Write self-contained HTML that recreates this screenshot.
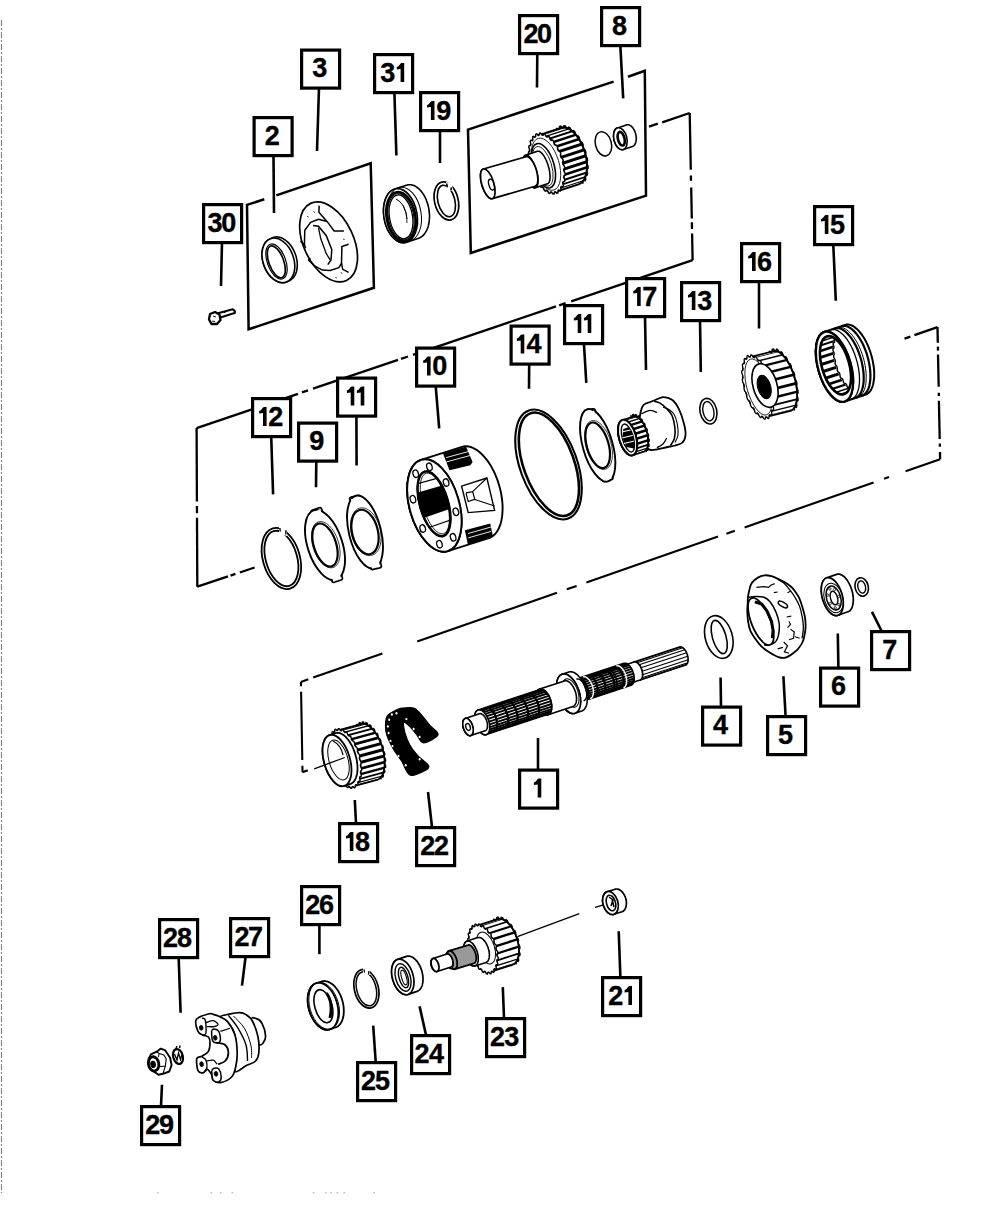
<!DOCTYPE html>
<html><head><meta charset="utf-8"><style>
html,body{margin:0;padding:0;background:#fff;width:1000px;height:1214px;overflow:hidden}
svg{display:block}
text{font-family:"Liberation Sans",sans-serif;font-weight:bold;font-size:27px;text-anchor:start;fill:#000;stroke:#000;stroke-width:0.35px}
</style></head><body>
<svg width="1000" height="1214" viewBox="0 0 1000 1214" stroke="#000" fill="none" stroke-linecap="butt">
<line x1="1.5" y1="20" x2="1.5" y2="1193" stroke="#888" stroke-width="1.2" stroke-dasharray="6 2 2 2"/>
<line x1="649.0" y1="126.7" x2="657.8" y2="123.7" stroke-width="2.3" />
<line x1="662.2" y1="122.3" x2="689.7" y2="113.0" stroke-width="2.3" />
<line x1="689.7" y1="113.0" x2="690.8" y2="169.7" stroke-width="2.3" />
<line x1="690.9" y1="175.6" x2="691.0" y2="180.8" stroke-width="2.3" />
<line x1="691.2" y1="187.5" x2="691.8" y2="218.6" stroke-width="2.3" />
<line x1="691.9" y1="222.3" x2="692.0" y2="229.0" stroke-width="2.3" />
<line x1="692.1" y1="233.5" x2="692.6" y2="260.2" stroke-width="2.3" />
<line x1="196.6" y1="428.1" x2="298.0" y2="393.8" stroke-width="2.3" />
<line x1="302.0" y1="392.4" x2="308.0" y2="390.4" stroke-width="2.3" />
<line x1="313.0" y1="388.7" x2="398.0" y2="359.9" stroke-width="2.3" />
<line x1="401.0" y1="358.9" x2="408.0" y2="356.5" stroke-width="2.3" />
<line x1="413.0" y1="354.8" x2="556.0" y2="306.4" stroke-width="2.3" />
<line x1="559.2" y1="305.4" x2="565.6" y2="303.2" stroke-width="2.3" />
<line x1="571.2" y1="301.3" x2="692.6" y2="260.2" stroke-width="2.3" />
<line x1="196.6" y1="428.1" x2="196.9" y2="501.5" stroke-width="2.3" />
<line x1="196.9" y1="506.0" x2="197.0" y2="513.3" stroke-width="2.3" />
<line x1="197.0" y1="517.8" x2="197.3" y2="586.7" stroke-width="2.3" />
<line x1="197.3" y1="586.7" x2="228.0" y2="576.4" stroke-width="2.3" />
<line x1="230.5" y1="575.6" x2="235.4" y2="573.9" stroke-width="2.3" />
<line x1="239.8" y1="572.5" x2="254.6" y2="567.5" stroke-width="2.3" />
<line x1="904.5" y1="338.7" x2="910.4" y2="336.6" stroke-width="2.3" />
<line x1="914.4" y1="335.2" x2="937.5" y2="327.1" stroke-width="2.3" />
<line x1="937.5" y1="327.1" x2="937.8" y2="342.7" stroke-width="2.3" />
<line x1="937.9" y1="346.6" x2="938.0" y2="350.6" stroke-width="2.3" />
<line x1="938.0" y1="354.5" x2="938.7" y2="386.8" stroke-width="2.3" />
<line x1="938.8" y1="392.8" x2="938.9" y2="396.0" stroke-width="2.3" />
<line x1="938.9" y1="400.7" x2="939.7" y2="438.9" stroke-width="2.3" />
<line x1="939.8" y1="443.5" x2="939.9" y2="446.8" stroke-width="2.3" />
<line x1="940.0" y1="452.1" x2="940.1" y2="459.3" stroke-width="2.3" />
<line x1="300.9" y1="681.9" x2="308.3" y2="679.3" stroke-width="2.1" />
<line x1="313.2" y1="677.6" x2="382.4" y2="653.5" stroke-width="2.1" />
<line x1="417.2" y1="641.4" x2="557.0" y2="592.7" stroke-width="2.1" />
<line x1="566.8" y1="589.3" x2="576.6" y2="585.9" stroke-width="2.1" />
<line x1="586.4" y1="582.5" x2="718.0" y2="536.6" stroke-width="2.1" />
<line x1="726.4" y1="533.7" x2="734.8" y2="530.8" stroke-width="2.1" />
<line x1="744.6" y1="527.4" x2="873.6" y2="482.5" stroke-width="2.1" />
<line x1="884.0" y1="478.8" x2="889.0" y2="477.1" stroke-width="2.1" />
<line x1="905.6" y1="471.3" x2="940.1" y2="459.3" stroke-width="2.1" />
<line x1="300.9" y1="681.9" x2="301.0" y2="686.3" stroke-width="2.1" />
<line x1="301.1" y1="691.7" x2="302.3" y2="760.0" stroke-width="2.1" />
<line x1="302.4" y1="765.8" x2="302.5" y2="772.3" stroke-width="2.1" />
<line x1="302.5" y1="772.3" x2="307.8" y2="770.3" stroke-width="2.1" />
<polyline points="264.3,199.3 247.0,204.8 248.6,329.3 373.9,287.8 370.7,163.3 276.3,195.4" stroke-width="2.5" fill="none" stroke-linejoin="miter"/>
<polyline points="613.6,81.6 468.0,129.6 470.8,253.0 646.0,195.6 644.8,70.8 628.0,76.8" stroke-width="2.5" fill="none" stroke-linejoin="miter"/>
<path d="M218,313.2 L232.5,309.3 Q235.5,310.5 234.8,313 L219.5,317.8" stroke-width="2.0" fill="#fff" />
<line x1="224.0" y1="312.5" x2="226.0" y2="311.8" stroke-width="1" />
<polygon points="210,314 215,312 219.5,314.5 220.5,320 217,324 211.5,324 209,319.5" fill="#fff" stroke-width="2.3" stroke-linejoin="round"/>
<line x1="213.0" y1="316.0" x2="216.0" y2="317.0" stroke-width="0.9" />
<line x1="212.0" y1="321.0" x2="215.0" y2="321.5" stroke-width="0.9" />
<polygon points="272.1,237.9 273.0,237.5 274.0,237.2 275.0,237.0 276.0,236.9 277.0,236.9 278.1,237.0 279.1,237.2 280.2,237.4 281.3,237.8 282.3,238.3 283.4,238.8 284.4,239.5 285.5,240.2 286.5,241.0 287.5,241.9 288.5,242.8 289.4,243.8 290.3,244.9 291.2,246.1 292.0,247.3 292.7,248.5 293.5,249.8 294.1,251.2 294.7,252.6 295.3,254.0 295.8,255.4 296.2,256.8 296.5,258.3 296.8,259.8 297.1,261.2 297.2,262.7 297.3,264.1 297.3,265.5 297.2,266.9 297.1,268.2 296.9,269.6 296.6,270.8 296.3,272.0 295.9,273.2 295.4,274.3 294.9,275.4 294.3,276.3 293.7,277.2 293.0,278.0 292.2,278.8 291.4,279.4 290.6,280.0 289.7,280.5 287.2,281.7 286.3,282.1 285.3,282.4 284.3,282.6 283.3,282.7 282.3,282.7 281.2,282.6 280.2,282.4 279.1,282.2 278.0,281.8 277.0,281.3 275.9,280.8 274.9,280.1 273.8,279.4 272.8,278.6 271.8,277.7 270.8,276.8 269.9,275.8 269.0,274.7 268.1,273.5 267.3,272.3 266.6,271.1 265.8,269.8 265.2,268.4 264.6,267.0 264.0,265.6 263.5,264.2 263.1,262.8 262.8,261.3 262.5,259.8 262.2,258.4 262.1,256.9 262.0,255.5 262.0,254.1 262.1,252.7 262.2,251.4 262.4,250.0 262.7,248.8 263.0,247.6 263.4,246.4 263.9,245.3 264.4,244.2 265.0,243.3 265.6,242.4 266.3,241.6 267.1,240.8 267.9,240.2 268.7,239.6 269.6,239.1" stroke-width="1.6" fill="#fff" stroke-linejoin="round" />
<ellipse cx="278.4" cy="260.4" rx="15.3" ry="23.1" transform="rotate(-20 278.4 260.4)" stroke-width="1.6" fill="#fff" />
<ellipse cx="276.5" cy="261.5" rx="9.2" ry="18.4" transform="rotate(-20 276.5 261.5)" stroke-width="1.2" fill="none" />
<ellipse cx="276.3" cy="261.8" rx="7.4" ry="16.8" transform="rotate(-20 276.3 261.8)" stroke-width="1.7" fill="none" />
<ellipse cx="328.6" cy="241.9" rx="25.0" ry="42.5" transform="rotate(-25 328.6 241.9)" stroke-width="1.7" fill="#fff" />
<polyline points="319.2,205.6 318.9,212.2 327.8,222.4 334.1,231.0 343.9,231.0" stroke-width="1.5" fill="none" />
<polyline points="348.6,244.3 341.9,246.6 341.5,263.0 342.7,269.3 348.6,272.4" stroke-width="1.5" fill="none" />
<polyline points="304.4,244.7 304.8,230.2 310.6,222.4 318.5,219.2 326.3,221.2" stroke-width="1.5" fill="none" />
<polyline points="308.3,259.9 314.6,265.8 322.4,270.1 330.2,270.5 338.8,267.7 341.8,263.0" stroke-width="1.5" fill="none" />
<polyline points="300.5,241.1 304.4,244.7 305.6,248.2" stroke-width="1.5" fill="none" />
<polyline points="308.3,260.3 310.3,258.0" stroke-width="1.5" fill="none" />
<polyline points="313.0,225.5 318.5,226.3 326.3,235.7 331.8,249.7 331.0,259.9 327.8,264.6" stroke-width="1.5" fill="none" />
<polyline points="318.5,227.8 320.8,238.8 326.3,253.7 330.2,259.9" stroke-width="1.3" fill="none" />
<line x1="313.8" y1="211.4" x2="314.6" y2="212.6" stroke-width="1.0" />
<line x1="307.5" y1="216.1" x2="308.3" y2="217.3" stroke-width="1.0" />
<line x1="343.5" y1="238.8" x2="344.3" y2="240.0" stroke-width="1.0" />
<line x1="341.1" y1="272.4" x2="341.9" y2="273.6" stroke-width="1.0" />
<line x1="335.7" y1="277.1" x2="336.5" y2="278.3" stroke-width="1.0" />
<polygon points="406.3,185.2 407.4,184.9 408.4,184.8 409.5,184.7 410.6,184.8 411.7,184.9 412.8,185.2 414.0,185.6 415.1,186.1 416.2,186.8 417.2,187.5 418.3,188.3 419.3,189.2 420.3,190.3 421.3,191.4 422.2,192.6 423.1,193.9 424.0,195.3 424.8,196.7 425.5,198.2 426.2,199.7 426.8,201.4 427.4,203.0 427.9,204.7 428.3,206.4 428.7,208.2 429.0,209.9 429.2,211.7 429.4,213.5 429.5,215.2 429.5,217.0 429.4,218.7 429.3,220.4 429.1,222.0 428.8,223.6 428.5,225.2 428.1,226.7 427.6,228.1 427.0,229.5 426.4,230.8 425.8,232.0 425.0,233.1 424.3,234.1 423.4,235.1 422.6,235.9 421.7,236.6 420.7,237.3 419.7,237.8 418.7,238.2 406.7,242.2 405.6,242.5 404.6,242.6 403.5,242.7 402.4,242.6 401.3,242.5 400.2,242.2 399.0,241.8 397.9,241.3 396.8,240.6 395.8,239.9 394.7,239.1 393.7,238.2 392.7,237.1 391.7,236.0 390.8,234.8 389.9,233.5 389.0,232.1 388.2,230.7 387.5,229.2 386.8,227.7 386.2,226.0 385.6,224.4 385.1,222.7 384.7,221.0 384.3,219.2 384.0,217.5 383.8,215.7 383.6,213.9 383.5,212.2 383.5,210.4 383.6,208.7 383.7,207.0 383.9,205.4 384.2,203.8 384.5,202.2 384.9,200.7 385.4,199.3 386.0,197.9 386.6,196.6 387.2,195.4 388.0,194.3 388.7,193.3 389.6,192.3 390.4,191.5 391.3,190.8 392.3,190.1 393.3,189.6 394.3,189.2" stroke-width="1.6" fill="#fff" stroke-linejoin="round" />
<ellipse cx="400.5" cy="215.7" rx="16.6" ry="27.3" transform="rotate(-10 400.5 215.7)" stroke-width="1.6" fill="#fff" />
<ellipse cx="404.5" cy="214.2" rx="16.6" ry="27.3" transform="rotate(-10 404.5 214.2)" stroke-width="1.0" fill="none" />
<ellipse cx="401.0" cy="216.8" rx="14.3" ry="24.9" transform="rotate(-10 401.0 216.8)" stroke-width="2.6" fill="none" />
<ellipse cx="401.0" cy="216.8" rx="12.7" ry="23.3" transform="rotate(-10 401.0 216.8)" stroke-width="1.0" fill="#fff" />
<ellipse cx="401.0" cy="216.8" rx="11.5" ry="22.1" transform="rotate(-10 401.0 216.8)" stroke-width="1.3" fill="none" />
<path d="M396,199 q9,4 11,20" stroke-width="1.0" fill="none" />
<path d="M403,205 q5,8 4,18" stroke-width="0.8" fill="none" />
<ellipse cx="446.4" cy="201.0" rx="11.8" ry="19.4" transform="rotate(-14 446.4 201.0)" stroke-width="1.7" fill="none" />
<ellipse cx="446.4" cy="201.0" rx="8.5" ry="16.1" transform="rotate(-14 446.4 201.0)" stroke-width="1.6" fill="none" />
<polygon points="446,182 452,183 453,191 447,191" fill="#fff" stroke="none"/>
<line x1="446.5" y1="183.5" x2="447.5" y2="187.2" stroke-width="1.6" />
<line x1="451.5" y1="187.3" x2="450.8" y2="190.5" stroke-width="1.6" />
<polygon points="561.0,127.9 562.0,127.7 563.0,127.5 564.1,127.5 565.1,127.7 566.2,127.9 567.3,128.2 568.5,128.7 569.6,129.3 570.7,130.0 571.8,130.8 572.9,131.8 574.0,132.8 575.1,133.9 576.2,135.1 577.2,136.5 578.2,137.9 579.1,139.3 580.1,140.9 580.9,142.5 581.8,144.2 582.5,145.9 583.3,147.7 583.9,149.5 584.5,151.3 585.1,153.1 585.6,155.0 586.0,156.9 586.3,158.7 586.6,160.6 586.8,162.4 586.9,164.2 586.9,166.0 586.9,167.8 586.8,169.4 586.7,171.1 586.4,172.6 586.1,174.1 585.7,175.5 585.3,176.8 584.8,178.1 584.2,179.2 583.5,180.3 582.8,181.2 582.1,182.1 581.3,182.8 580.4,183.4 579.5,183.9 578.6,184.3 555.6,191.8 554.6,192.0 553.6,192.2 552.5,192.2 551.5,192.0 550.4,191.8 549.3,191.5 548.1,191.0 547.0,190.4 545.9,189.7 544.8,188.9 543.7,187.9 542.6,186.9 541.5,185.8 540.4,184.6 539.4,183.2 538.4,181.8 537.5,180.4 536.5,178.8 535.7,177.2 534.8,175.5 534.1,173.8 533.3,172.0 532.7,170.2 532.1,168.4 531.5,166.6 531.0,164.7 530.6,162.8 530.3,161.0 530.0,159.1 529.8,157.3 529.7,155.5 529.7,153.7 529.7,151.9 529.8,150.3 529.9,148.6 530.2,147.1 530.5,145.6 530.9,144.2 531.3,142.9 531.8,141.6 532.4,140.5 533.1,139.4 533.8,138.5 534.5,137.6 535.3,136.9 536.2,136.3 537.1,135.8 538.0,135.4" stroke-width="1.9" fill="#fff" stroke-linejoin="round" />
<ellipse cx="546.8" cy="163.6" rx="15.5" ry="29.5" transform="rotate(-17 546.8 163.6)" stroke-width="1.9" fill="#fff" />
<polygon points="538.0,135.4 538.6,135.3 539.1,135.2 539.6,135.1 562.6,127.6 562.1,127.7 561.6,127.8 561.0,127.9" fill="#000" stroke="none"/>
<polygon points="541.3,135.1 541.9,135.1 542.4,135.2 543.0,135.3 566.0,127.8 565.4,127.7 564.9,127.6 564.3,127.6" fill="#000" stroke="none"/>
<polygon points="544.8,135.9 545.4,136.2 546.0,136.5 546.6,136.8 569.6,129.3 569.0,129.0 568.4,128.7 567.8,128.4" fill="#000" stroke="none"/>
<polygon points="548.4,138.0 549.0,138.4 549.6,138.9 550.1,139.5 573.1,132.0 572.6,131.4 572.0,130.9 571.4,130.5" fill="#000" stroke="none"/>
<polygon points="551.9,141.2 552.5,141.8 553.0,142.5 553.6,143.2 576.6,135.7 576.0,135.0 575.5,134.3 574.9,133.7" fill="#000" stroke="none"/>
<polygon points="555.2,145.4 555.7,146.1 556.2,146.9 556.7,147.8 579.7,140.3 579.2,139.4 578.7,138.6 578.2,137.9" fill="#000" stroke="none"/>
<polygon points="558.1,150.3 558.6,151.2 559.0,152.1 559.4,153.0 582.4,145.5 582.0,144.6 581.6,143.7 581.1,142.8" fill="#000" stroke="none"/>
<polygon points="560.5,155.9 560.9,156.8 561.2,157.8 561.5,158.8 584.5,151.3 584.2,150.3 583.9,149.3 583.5,148.4" fill="#000" stroke="none"/>
<polygon points="562.4,161.8 562.6,162.8 562.8,163.8 563.0,164.8 586.0,157.3 585.8,156.3 585.6,155.3 585.4,154.3" fill="#000" stroke="none"/>
<polygon points="563.5,167.7 563.6,168.7 563.7,169.7 563.8,170.7 586.8,163.2 586.7,162.2 586.6,161.2 586.5,160.2" fill="#000" stroke="none"/>
<polygon points="563.9,173.5 563.9,174.4 563.9,175.4 563.9,176.3 586.9,168.8 586.9,167.9 586.9,166.9 586.9,166.0" fill="#000" stroke="none"/>
<polygon points="563.6,178.9 563.5,179.7 563.3,180.5 563.2,181.3 586.2,173.8 586.3,173.0 586.5,172.2 586.6,171.4" fill="#000" stroke="none"/>
<polygon points="562.6,183.6 562.3,184.3 562.0,184.9 561.8,185.6 584.8,178.1 585.0,177.4 585.3,176.8 585.6,176.1" fill="#000" stroke="none"/>
<polygon points="560.8,187.4 560.5,187.9 560.1,188.4 559.7,188.9 582.7,181.4 583.1,180.9 583.5,180.4 583.8,179.9" fill="#000" stroke="none"/>
<polygon points="558.4,190.2 558.0,190.5 557.5,190.8 557.1,191.1 580.1,183.6 580.5,183.3 581.0,183.0 581.4,182.7" fill="#000" stroke="none"/>
<polygon points="562.6,158.8 563.2,160.6 562.6,162.5 562.9,164.2 564.4,166.1 564.7,167.9 563.7,169.4 563.9,171.0 565.1,173.3 565.1,175.0 563.9,175.9 563.8,177.4 564.8,180.0 564.5,181.5 563.1,181.7 562.7,183.0 563.4,185.6 562.9,186.9 561.3,186.5 560.7,187.5 561.0,190.1 560.3,190.9 558.7,189.9 558.0,190.5 557.9,192.9 556.9,193.4 555.4,191.8 554.5,192.0 554.0,194.1 553.0,194.1 551.6,192.1 550.6,191.9 549.8,193.5 548.7,193.1 547.5,190.7 546.5,190.1 545.4,191.1 544.3,190.3 543.4,187.7 542.4,186.8 541.1,187.2 540.0,186.0 539.5,183.4 538.6,182.1 537.1,181.9 536.1,180.4 536.0,177.8 535.2,176.3 533.6,175.5 532.9,173.8 533.1,171.5 532.5,169.8 531.0,168.4 530.4,166.6 531.0,164.7 530.7,163.0 529.2,161.1 528.9,159.3 529.9,157.8 529.7,156.2 528.5,153.9 528.5,152.2 529.7,151.3 529.8,149.8 528.8,147.2 529.1,145.7 530.5,145.5 530.9,144.2 530.2,141.6 530.7,140.3 532.3,140.7 532.9,139.7 532.6,137.1 533.3,136.3 534.9,137.3 535.6,136.7 535.7,134.3 536.7,133.8 538.2,135.4 539.1,135.2 539.6,133.1 540.6,133.1 542.0,135.1 543.0,135.3 543.8,133.7 544.9,134.1 546.1,136.5 547.1,137.1 548.2,136.1 549.3,136.9 550.2,139.5 551.2,140.4 552.5,140.0 553.6,141.2 554.1,143.8 555.0,145.1 556.5,145.3 557.5,146.8 557.6,149.4 558.4,150.9 560.0,151.7 560.7,153.4 560.5,155.7 561.1,157.4 562.6,158.8" fill="#fff" stroke-width="1.5" stroke-linejoin="round"/>
<ellipse cx="546.0" cy="164.2" rx="13.0" ry="27.0" transform="rotate(-17 546.0 164.2)" stroke-width="0.8" fill="none" />
<polyline points="556.1,129.3 556.9,128.4 558.5,129.3 559.3,128.7 559.7,126.5 560.7,126.1 562.2,127.6 563.3,127.5 564.0,125.8 565.2,126.0 566.6,128.0 567.7,128.4 568.8,127.2 570.0,127.9 571.1,130.3 572.3,131.2 573.6,130.7 574.8,131.9 575.6,134.5 576.6,135.8 578.2,136.0 579.2,137.5 579.6,140.1 580.5,141.8 582.1,142.7 583.0,144.5 583.0,147.0 583.7,148.8 585.2,150.3 585.8,152.3 585.4,154.4 585.8,156.3 587.2,158.3 587.5,160.4 586.7,162.0 586.9,163.8 588.0,166.2 588.0,168.1 586.9,169.1 586.7,170.8 587.5,173.4 587.1,175.0 585.8,175.4 585.3,176.7 585.7,179.4 585.1,180.6 583.6,180.3 582.8,181.2 582.8,183.7" stroke-width="1.6" fill="none" />
<ellipse cx="543.5" cy="165.8" rx="10.5" ry="23.0" transform="rotate(-17 543.5 165.8)" stroke-width="1.6" fill="#fff" />
<ellipse cx="542.8" cy="166.3" rx="8.8" ry="20.5" transform="rotate(-17 542.8 166.3)" stroke-width="0.8" fill="none" />
<polygon points="537.5,151.3 537.9,151.2 538.3,151.2 538.7,151.2 539.1,151.3 539.6,151.5 540.0,151.8 540.5,152.1 541.0,152.5 541.5,152.9 542.0,153.5 542.5,154.0 543.0,154.7 543.5,155.4 544.0,156.1 544.4,156.9 544.9,157.7 545.4,158.6 545.8,159.5 546.3,160.5 546.7,161.5 547.1,162.5 547.5,163.5 547.9,164.5 548.2,165.6 548.5,166.7 548.8,167.7 549.1,168.8 549.3,169.9 549.5,170.9 549.7,172.0 549.8,173.0 549.9,174.0 550.0,174.9 550.1,175.9 550.1,176.8 550.1,177.6 550.0,178.5 549.9,179.2 549.8,179.9 549.7,180.6 549.5,181.2 549.3,181.8 549.1,182.3 548.8,182.7 548.5,183.1 548.2,183.4 547.9,183.6 547.5,183.7 535.5,187.7 535.1,187.8 534.7,187.8 534.3,187.8 533.9,187.7 533.4,187.5 533.0,187.2 532.5,186.9 532.0,186.5 531.5,186.1 531.0,185.5 530.5,185.0 530.0,184.3 529.5,183.6 529.0,182.9 528.6,182.1 528.1,181.3 527.6,180.4 527.2,179.5 526.7,178.5 526.3,177.5 525.9,176.5 525.5,175.5 525.1,174.5 524.8,173.4 524.5,172.3 524.2,171.3 523.9,170.2 523.7,169.1 523.5,168.1 523.3,167.0 523.2,166.0 523.1,165.0 523.0,164.1 522.9,163.1 522.9,162.2 522.9,161.4 523.0,160.5 523.1,159.8 523.2,159.1 523.3,158.4 523.5,157.8 523.7,157.2 523.9,156.7 524.2,156.3 524.5,155.9 524.8,155.6 525.1,155.4 525.5,155.3" stroke-width="1.6" fill="#fff" stroke-linejoin="round" />
<ellipse cx="530.5" cy="171.5" rx="6.0" ry="17.0" transform="rotate(-17 530.5 171.5)" stroke-width="1.6" fill="#fff" />
<polygon points="526.0,156.7 526.4,156.6 526.8,156.6 527.2,156.6 527.6,156.7 528.1,156.9 528.6,157.2 529.0,157.5 529.5,157.8 530.0,158.2 530.4,158.7 530.9,159.3 531.4,159.8 531.9,160.5 532.3,161.2 532.8,161.9 533.2,162.6 533.7,163.4 534.1,164.3 534.5,165.2 534.9,166.1 535.3,167.0 535.6,167.9 536.0,168.9 536.3,169.8 536.5,170.8 536.8,171.8 537.0,172.8 537.2,173.7 537.4,174.7 537.5,175.6 537.7,176.6 537.7,177.5 537.8,178.4 537.8,179.2 537.8,180.0 537.8,180.8 537.7,181.6 537.6,182.3 537.4,182.9 537.3,183.5 537.1,184.1 536.9,184.6 536.6,185.0 536.3,185.4 536.0,185.7 535.7,186.0 535.4,186.2 535.0,186.3 492.3,198.6 491.9,198.7 491.5,198.7 491.1,198.7 490.7,198.6 490.2,198.4 489.7,198.1 489.3,197.8 488.8,197.5 488.3,197.1 487.9,196.6 487.4,196.0 486.9,195.5 486.4,194.8 486.0,194.1 485.5,193.4 485.1,192.7 484.6,191.9 484.2,191.0 483.8,190.1 483.4,189.2 483.0,188.3 482.7,187.4 482.3,186.4 482.0,185.5 481.8,184.5 481.5,183.5 481.3,182.5 481.1,181.6 480.9,180.6 480.8,179.7 480.6,178.7 480.6,177.8 480.5,176.9 480.5,176.1 480.5,175.3 480.5,174.5 480.6,173.7 480.7,173.0 480.9,172.4 481.0,171.8 481.2,171.2 481.4,170.7 481.7,170.3 482.0,169.9 482.3,169.6 482.6,169.3 482.9,169.1 483.3,169.0" stroke-width="1.7" fill="#fff" stroke-linejoin="round" />
<ellipse cx="487.8" cy="183.8" rx="6.0" ry="15.5" transform="rotate(-17 487.8 183.8)" stroke-width="1.7" fill="#fff" />
<ellipse cx="491.5" cy="184.6" rx="2.6" ry="5.6" transform="rotate(-17 491.5 184.6)" stroke-width="1.4" fill="none" />
<ellipse cx="603.4" cy="143.8" rx="8.0" ry="12.3" transform="rotate(-14 603.4 143.8)" stroke-width="1.5" fill="none" />
<polygon points="626.4,124.9 626.8,124.8 627.2,124.7 627.7,124.7 628.1,124.7 628.6,124.8 629.0,124.9 629.5,125.1 629.9,125.3 630.3,125.6 630.8,125.9 631.2,126.2 631.7,126.6 632.1,127.0 632.5,127.5 632.9,128.0 633.3,128.5 633.6,129.1 634.0,129.7 634.3,130.3 634.6,130.9 634.9,131.6 635.1,132.3 635.4,132.9 635.6,133.6 635.8,134.4 635.9,135.1 636.0,135.8 636.1,136.5 636.2,137.2 636.3,137.9 636.3,138.6 636.2,139.3 636.2,140.0 636.1,140.6 636.0,141.3 635.9,141.9 635.7,142.5 635.5,143.0 635.3,143.5 635.1,144.0 634.8,144.5 634.5,144.9 634.2,145.3 633.9,145.6 633.5,145.9 633.2,146.1 632.8,146.3 632.4,146.5 623.4,149.5 623.0,149.6 622.6,149.7 622.1,149.7 621.7,149.7 621.2,149.6 620.8,149.5 620.3,149.3 619.9,149.1 619.5,148.8 619.0,148.5 618.6,148.2 618.1,147.8 617.7,147.4 617.3,146.9 616.9,146.4 616.5,145.9 616.2,145.3 615.8,144.7 615.5,144.1 615.2,143.5 614.9,142.8 614.7,142.1 614.4,141.5 614.2,140.8 614.0,140.0 613.9,139.3 613.8,138.6 613.7,137.9 613.6,137.2 613.5,136.5 613.5,135.8 613.6,135.1 613.6,134.4 613.7,133.8 613.8,133.1 613.9,132.5 614.1,131.9 614.3,131.4 614.5,130.9 614.7,130.4 615.0,129.9 615.3,129.5 615.6,129.1 615.9,128.8 616.3,128.5 616.6,128.3 617.0,128.1 617.4,127.9" stroke-width="1.6" fill="#fff" stroke-linejoin="round" />
<ellipse cx="620.4" cy="138.7" rx="6.5" ry="11.2" transform="rotate(-14 620.4 138.7)" stroke-width="1.6" fill="#fff" />
<ellipse cx="621.2" cy="138.7" rx="3.3" ry="7.0" transform="rotate(-14 621.2 138.7)" stroke-width="2.6" fill="none" />
<ellipse cx="281.4" cy="558.5" rx="18.5" ry="31.3" transform="rotate(-16 281.4 558.5)" stroke-width="1.8" fill="none" />
<ellipse cx="281.4" cy="558.5" rx="15.7" ry="28.5" transform="rotate(-16 281.4 558.5)" stroke-width="1.8" fill="none" />
<polygon points="279,526 287,528 287,536 279,534" fill="#fff" stroke="none"/>
<line x1="279.8" y1="528.0" x2="280.3" y2="531.5" stroke-width="1.4" />
<line x1="286.0" y1="530.2" x2="285.8" y2="534.5" stroke-width="1.4" />
<rect x="311.5" y="508.7" width="11" height="7.6" rx="2" fill="#fff" stroke-width="1.7" transform="rotate(-18 317.0 512.5)"/>
<rect x="331.0" y="573.7" width="11" height="7.6" rx="2" fill="#fff" stroke-width="1.7" transform="rotate(-18 336.5 577.5)"/>
<ellipse cx="325.0" cy="545.0" rx="17.4" ry="36.4" transform="rotate(-18 325.0 545.0)" stroke-width="1.9" fill="#fff" />
<rect x="312.8" y="510.7" width="8.4" height="4.6" fill="#fff" stroke="none" transform="rotate(-18 317.0 512.5)"/>
<rect x="332.3" y="575.7" width="8.4" height="4.6" fill="#fff" stroke="none" transform="rotate(-18 336.5 577.5)"/>
<ellipse cx="325.0" cy="545.0" rx="11.2" ry="22.3" transform="rotate(-18 325.0 545.0)" stroke-width="2.1999999999999997" fill="none" />
<ellipse cx="325.8" cy="544.7" rx="12.9" ry="24.0" transform="rotate(-18 325.8 544.7)" stroke-width="0.7" fill="none" />
<rect x="350.0" y="496.2" width="11" height="7.6" rx="2" fill="#fff" stroke-width="1.7" transform="rotate(-14 355.5 500.0)"/>
<rect x="370.0" y="561.2" width="11" height="7.6" rx="2" fill="#fff" stroke-width="1.7" transform="rotate(-14 375.5 565.0)"/>
<ellipse cx="365.0" cy="532.0" rx="16.0" ry="37.4" transform="rotate(-14 365.0 532.0)" stroke-width="1.9" fill="#fff" />
<rect x="351.3" y="498.2" width="8.4" height="4.6" fill="#fff" stroke="none" transform="rotate(-14 355.5 500.0)"/>
<rect x="371.3" y="563.2" width="8.4" height="4.6" fill="#fff" stroke="none" transform="rotate(-14 375.5 565.0)"/>
<ellipse cx="365.0" cy="532.0" rx="12.9" ry="22.7" transform="rotate(-14 365.0 532.0)" stroke-width="2.1999999999999997" fill="none" />
<ellipse cx="365.8" cy="531.7" rx="14.6" ry="24.4" transform="rotate(-14 365.8 531.7)" stroke-width="0.7" fill="none" />
<polygon points="462.0,446.9 463.5,446.5 465.2,446.3 466.8,446.3 468.5,446.5 470.3,446.9 472.0,447.5 473.8,448.3 475.6,449.3 477.4,450.4 479.1,451.8 480.9,453.3 482.6,455.0 484.3,456.8 486.0,458.8 487.6,460.9 489.2,463.2 490.7,465.6 492.1,468.1 493.5,470.7 494.8,473.5 496.0,476.3 497.1,479.1 498.1,482.0 499.0,485.0 499.9,488.0 500.6,491.0 501.2,494.0 501.7,497.1 502.1,500.1 502.4,503.0 502.6,505.9 502.6,508.8 502.5,511.6 502.3,514.3 502.0,516.9 501.6,519.4 501.1,521.8 500.5,524.1 499.7,526.2 498.9,528.2 497.9,530.1 496.9,531.7 495.7,533.3 494.5,534.6 493.2,535.7 491.8,536.7 490.4,537.5 488.8,538.1 447.8,551.1 446.3,551.5 444.6,551.7 443.0,551.7 441.3,551.5 439.5,551.1 437.8,550.5 436.0,549.7 434.2,548.7 432.4,547.6 430.7,546.2 428.9,544.7 427.2,543.0 425.5,541.2 423.8,539.2 422.2,537.1 420.6,534.8 419.1,532.4 417.7,529.9 416.3,527.3 415.0,524.5 413.8,521.7 412.7,518.9 411.7,516.0 410.8,513.0 409.9,510.0 409.2,507.0 408.6,504.0 408.1,500.9 407.7,497.9 407.4,495.0 407.2,492.1 407.2,489.2 407.3,486.4 407.5,483.7 407.8,481.1 408.2,478.6 408.7,476.2 409.3,473.9 410.1,471.8 410.9,469.8 411.9,467.9 412.9,466.3 414.1,464.7 415.3,463.4 416.6,462.3 418.0,461.3 419.4,460.5 421.0,459.9" stroke-width="1.9" fill="#fff" stroke-linejoin="round" />
<ellipse cx="434.4" cy="505.5" rx="24.8" ry="47.5" transform="rotate(-16 434.4 505.5)" stroke-width="1.9" fill="#fff" />
<clipPath id="c1"><polygon points="462.0,446.9 463.5,446.5 465.2,446.3 466.8,446.3 468.5,446.5 470.3,446.9 472.0,447.5 473.8,448.3 475.6,449.3 477.4,450.4 479.1,451.8 480.9,453.3 482.6,455.0 484.3,456.8 486.0,458.8 487.6,460.9 489.2,463.2 490.7,465.6 492.1,468.1 493.5,470.7 494.8,473.5 496.0,476.3 497.1,479.1 498.1,482.0 499.0,485.0 499.9,488.0 500.6,491.0 501.2,494.0 501.7,497.1 502.1,500.1 502.4,503.0 502.6,505.9 502.6,508.8 502.5,511.6 502.3,514.3 502.0,516.9 501.6,519.4 501.1,521.8 500.5,524.1 499.7,526.2 498.9,528.2 497.9,530.1 496.9,531.7 495.7,533.3 494.5,534.6 493.2,535.7 491.8,536.7 490.4,537.5 488.8,538.1 447.8,551.1 446.3,551.5 444.6,551.7 443.0,551.7 441.3,551.5 439.5,551.1 437.8,550.5 436.0,549.7 434.2,548.7 432.4,547.6 430.7,546.2 428.9,544.7 427.2,543.0 425.5,541.2 423.8,539.2 422.2,537.1 420.6,534.8 419.1,532.4 417.7,529.9 416.3,527.3 415.0,524.5 413.8,521.7 412.7,518.9 411.7,516.0 410.8,513.0 409.9,510.0 409.2,507.0 408.6,504.0 408.1,500.9 407.7,497.9 407.4,495.0 407.2,492.1 407.2,489.2 407.3,486.4 407.5,483.7 407.8,481.1 408.2,478.6 408.7,476.2 409.3,473.9 410.1,471.8 410.9,469.8 411.9,467.9 412.9,466.3 414.1,464.7 415.3,463.4 416.6,462.3 418.0,461.3 419.4,460.5 421.0,459.9"/></clipPath>
<g clip-path="url(#c1)">
<polygon points="442.9,453.2 466.0,446.6 472.6,462.0 470.4,465.3 449.5,470.3" fill="#000" stroke="none"/>
<polygon points="464.9,530.2 490.2,523.6 493.5,539.0 468.2,546.2" fill="#000" stroke="none"/>
<polyline points="446.2,457.6 470.4,451.0" stroke-width="0.9" fill="none" stroke="#fff"/>
<polyline points="446.2,462.0 470.4,455.4" stroke-width="0.9" fill="none" stroke="#fff"/>
<polyline points="468.2,533.5 491.3,526.9" stroke-width="0.9" fill="none" stroke="#fff"/>
<polyline points="468.2,537.9 491.3,531.3" stroke-width="0.9" fill="none" stroke="#fff"/>
<polygon points="461.6,486.2 486.9,478.0 494.6,510.4 468.2,512.6" fill="#fff" stroke="#000" stroke-width="1.4"/>
<polyline points="466.0,492.8 472.6,491.7 474.8,499.4 468.2,501.6 466.0,492.8" stroke-width="1.2" fill="none" />
<polyline points="472.6,491.7 486.9,478.0" stroke-width="1.1" fill="none" />
<polyline points="474.8,499.4 494.6,506.0" stroke-width="1.1" fill="none" />
</g>
<ellipse cx="434.4" cy="505.5" rx="24.8" ry="47.5" transform="rotate(-16 434.4 505.5)" stroke-width="1.9" fill="#fff" />
<ellipse cx="455.9" cy="511.8" rx="2.7" ry="3.8" transform="rotate(-16 455.9 511.8)" stroke-width="1.3" fill="#fff" />
<ellipse cx="453.1" cy="537.3" rx="2.7" ry="3.8" transform="rotate(-16 453.1 537.3)" stroke-width="1.3" fill="#fff" />
<ellipse cx="439.4" cy="544.2" rx="2.7" ry="3.8" transform="rotate(-16 439.4 544.2)" stroke-width="1.3" fill="#fff" />
<ellipse cx="422.7" cy="528.5" rx="2.7" ry="3.8" transform="rotate(-16 422.7 528.5)" stroke-width="1.3" fill="#fff" />
<ellipse cx="412.9" cy="499.2" rx="2.7" ry="3.8" transform="rotate(-16 412.9 499.2)" stroke-width="1.3" fill="#fff" />
<ellipse cx="415.7" cy="473.7" rx="2.7" ry="3.8" transform="rotate(-16 415.7 473.7)" stroke-width="1.3" fill="#fff" />
<ellipse cx="429.4" cy="466.8" rx="2.7" ry="3.8" transform="rotate(-16 429.4 466.8)" stroke-width="1.3" fill="#fff" />
<ellipse cx="446.1" cy="482.5" rx="2.7" ry="3.8" transform="rotate(-16 446.1 482.5)" stroke-width="1.3" fill="#fff" />
<ellipse cx="434.0" cy="503.8" rx="14.2" ry="33.5" transform="rotate(-16 434.0 503.8)" stroke-width="1.6" fill="#fff" />
<clipPath id="c2"><ellipse cx="434.0" cy="503.8" rx="14.2" ry="33.5" transform="rotate(-16 434.0 503.8)"/></clipPath>
<g clip-path="url(#c2)">
<polygon points="416.5,492.8 447.3,484.0 451.7,508.2 419.8,519.2" fill="#000" stroke="none"/>
<polyline points="416.5,484.0 444.0,476.3" stroke-width="1.2" fill="none" />
<polyline points="427.5,528.0 452.8,519.2" stroke-width="1.2" fill="none" />
</g>
<ellipse cx="434.0" cy="503.8" rx="14.2" ry="33.5" transform="rotate(-16 434.0 503.8)" stroke-width="2.4" fill="none" />
<ellipse cx="434.8" cy="503.5" rx="12.2" ry="31.5" transform="rotate(-16 434.8 503.5)" stroke-width="0.8" fill="none" />
<ellipse cx="548.5" cy="464.5" rx="28.5" ry="57.5" transform="rotate(-20 548.5 464.5)" stroke-width="2.1" fill="none" />
<ellipse cx="548.9" cy="464.3" rx="25.2" ry="54.2" transform="rotate(-20 548.9 464.3)" stroke-width="2.6" fill="none" />
<rect x="585.0" y="409.7" width="11" height="7.6" rx="2" fill="#fff" stroke-width="1.7" transform="rotate(-16 590.5 413.5)"/>
<rect x="601.5" y="473.2" width="11" height="7.6" rx="2" fill="#fff" stroke-width="1.7" transform="rotate(-16 607.0 477.0)"/>
<ellipse cx="597.7" cy="445.3" rx="14.9" ry="37.5" transform="rotate(-16 597.7 445.3)" stroke-width="1.9" fill="#fff" />
<rect x="586.3" y="411.7" width="8.4" height="4.6" fill="#fff" stroke="none" transform="rotate(-16 590.5 413.5)"/>
<rect x="602.8" y="475.2" width="8.4" height="4.6" fill="#fff" stroke="none" transform="rotate(-16 607.0 477.0)"/>
<ellipse cx="597.7" cy="445.3" rx="10.9" ry="23.5" transform="rotate(-16 597.7 445.3)" stroke-width="2.1999999999999997" fill="none" />
<ellipse cx="598.5" cy="445.0" rx="12.6" ry="25.2" transform="rotate(-16 598.5 445.0)" stroke-width="0.7" fill="none" />
<path d="M640.5,412.5 C641.3,409.0 641.9,406.8 643.5,405.0 C645.1,403.3 648.5,402.8 650.3,402.0 C652.0,401.3 651.9,401.3 654.0,400.5 C656.1,399.7 660.0,397.3 663.0,397.1 C666.0,397.0 669.4,397.8 672.0,399.8 C674.6,401.7 676.8,404.8 678.8,408.8 C680.8,412.8 682.9,419.4 684.0,423.8 C685.1,428.1 685.8,431.9 685.5,435.0 C685.3,438.1 684.3,440.8 682.5,442.5 C680.8,444.3 677.5,444.8 675.0,445.5 C672.5,446.3 670.5,446.4 667.5,447.0 C664.5,447.6 659.8,448.8 657.0,449.3 C654.3,449.8 653.0,450.4 651.0,450.0 C649.0,449.6 646.8,448.9 645.0,447.0 C643.3,445.1 641.5,442.3 640.5,438.8 C639.5,435.3 639.0,430.4 639.0,426.0 C639.0,421.6 639.8,416.0 640.5,412.5 Z" stroke-width="1.8" fill="#fff" stroke-linejoin="round" />
<path d="M654.0,401.3 C655.0,401.6 658.0,402.0 660.0,403.1 C662.0,404.3 664.0,405.9 666.0,408.0 C668.0,410.1 670.5,412.0 672.0,415.5 C673.5,419.0 674.6,425.1 675.0,429.0 C675.4,432.9 675.0,436.0 674.3,438.8 C673.5,441.5 671.1,444.4 670.5,445.5" stroke-width="1.6" fill="none" stroke-linejoin="round" />
<path d="M663.0,407.3 C664.0,407.6 667.1,408.3 669.0,409.5 C670.9,410.8 672.9,412.4 674.3,414.8 C675.6,417.1 676.6,420.4 677.3,423.8 C677.9,427.1 678.4,431.9 678.0,435.0 C677.6,438.1 675.5,441.3 675.0,442.5" stroke-width="1.1" fill="none" stroke-linejoin="round" />
<path d="M641.3,414.0 C642.1,413.6 644.9,412.0 646.5,411.4 C648.1,410.8 649.3,410.1 651.0,410.3 C652.8,410.4 656.0,412.1 657.0,412.5" stroke-width="1.3" fill="none" stroke-linejoin="round" />
<path d="M666.8,438.0 C666.1,439.0 664.6,442.4 663.0,444.0 C661.4,445.6 658.0,447.1 657.0,447.8" stroke-width="1.3" fill="none" stroke-linejoin="round" />
<polygon points="633.4,416.5 634.0,416.4 634.5,416.3 635.1,416.3 635.7,416.4 636.3,416.6 636.9,416.8 637.5,417.2 638.2,417.6 638.8,418.0 639.4,418.6 640.0,419.2 640.7,419.8 641.3,420.6 641.9,421.3 642.5,422.2 643.0,423.1 643.6,424.0 644.1,425.0 644.6,426.0 645.1,427.1 645.5,428.1 645.9,429.2 646.3,430.4 646.7,431.5 647.0,432.7 647.3,433.8 647.5,435.0 647.8,436.2 647.9,437.3 648.1,438.5 648.1,439.6 648.2,440.7 648.2,441.7 648.2,442.8 648.1,443.8 648.0,444.7 647.8,445.6 647.6,446.5 647.4,447.3 647.1,448.1 646.8,448.8 646.5,449.4 646.1,450.0 645.7,450.4 645.2,450.9 644.8,451.2 644.3,451.5 643.8,451.7 632.8,455.2 632.2,455.3 631.7,455.4 631.1,455.4 630.5,455.3 629.9,455.1 629.3,454.9 628.7,454.5 628.0,454.1 627.4,453.7 626.8,453.1 626.2,452.5 625.5,451.9 624.9,451.1 624.3,450.4 623.7,449.5 623.2,448.6 622.6,447.7 622.1,446.7 621.6,445.7 621.1,444.6 620.7,443.6 620.3,442.5 619.9,441.3 619.5,440.2 619.2,439.0 618.9,437.9 618.7,436.7 618.4,435.5 618.3,434.4 618.1,433.2 618.1,432.1 618.0,431.0 618.0,430.0 618.0,428.9 618.1,427.9 618.2,427.0 618.4,426.1 618.6,425.2 618.8,424.4 619.1,423.6 619.4,422.9 619.7,422.3 620.1,421.7 620.5,421.3 621.0,420.8 621.4,420.5 621.9,420.2 622.4,420.0" stroke-width="1.7" fill="#fff" stroke-linejoin="round" />
<ellipse cx="627.6" cy="437.6" rx="8.5" ry="18.4" transform="rotate(-16 627.6 437.6)" stroke-width="1.7" fill="#fff" />
<polygon points="622.4,420.0 622.8,419.9 623.2,419.8 623.6,419.8 634.6,416.3 634.2,416.3 633.8,416.4 633.4,416.5" fill="#000" stroke="none"/>
<polygon points="624.9,420.0 625.4,420.1 625.8,420.3 626.3,420.5 637.3,417.0 636.8,416.8 636.4,416.6 635.9,416.5" fill="#000" stroke="none"/>
<polygon points="627.6,421.4 628.1,421.8 628.5,422.2 629.0,422.6 640.0,419.1 639.5,418.7 639.1,418.3 638.6,417.9" fill="#000" stroke="none"/>
<polygon points="630.3,424.1 630.8,424.7 631.2,425.3 631.6,425.9 642.6,422.4 642.2,421.8 641.8,421.2 641.3,420.6" fill="#000" stroke="none"/>
<polygon points="632.8,427.9 633.2,428.7 633.6,429.4 633.9,430.2 644.9,426.7 644.6,425.9 644.2,425.2 643.8,424.4" fill="#000" stroke="none"/>
<polygon points="634.9,432.5 635.2,433.4 635.4,434.2 635.7,435.0 646.7,431.5 646.4,430.7 646.2,429.9 645.9,429.0" fill="#000" stroke="none"/>
<polygon points="636.3,437.6 636.5,438.4 636.7,439.3 636.8,440.1 647.8,436.6 647.7,435.8 647.5,434.9 647.3,434.1" fill="#000" stroke="none"/>
<polygon points="637.1,442.6 637.2,443.4 637.2,444.2 637.2,445.0 648.2,441.5 648.2,440.7 648.2,439.9 648.1,439.1" fill="#000" stroke="none"/>
<polygon points="637.1,447.2 637.0,447.9 636.9,448.6 636.8,449.2 647.8,445.7 647.9,445.1 648.0,444.4 648.1,443.7" fill="#000" stroke="none"/>
<polygon points="636.3,451.0 636.1,451.6 635.9,452.1 635.7,452.6 646.7,449.1 646.9,448.6 647.1,448.1 647.3,447.5" fill="#000" stroke="none"/>
<polygon points="634.8,453.8 634.5,454.1 634.2,454.4 633.9,454.7 644.9,451.2 645.2,450.9 645.5,450.6 645.8,450.3" fill="#000" stroke="none"/>
<polyline points="630.4,416.6 631.0,416.0 632.1,417.2 632.7,416.8 632.7,414.8 633.4,414.6 634.4,416.3 635.1,416.3 635.5,414.7 636.2,414.9 637.1,416.9 637.8,417.3 638.5,416.2 639.2,416.8 639.9,419.0 640.6,419.7 641.5,419.2 642.2,420.1 642.6,422.3 643.2,423.3 644.3,423.4 644.9,424.7 644.9,426.7 645.4,427.8 646.6,428.6 647.1,430.0 646.7,431.6 647.1,432.9 648.2,434.2 648.5,435.6 647.8,436.8 648.0,438.0 649.1,439.8 649.1,441.1 648.2,441.7 648.2,442.8 649.0,444.9 648.8,446.1 647.7,446.0 647.5,446.9 648.1,449.1 647.7,450.0 646.5,449.3 646.1,449.9 646.3,452.1" stroke-width="1.6" fill="none" />
<ellipse cx="627.6" cy="437.6" rx="8.5" ry="18.4" transform="rotate(-16 627.6 437.6)" stroke-width="2.0" fill="#fff" />
<ellipse cx="627.9" cy="438.0" rx="5.5" ry="14.4" transform="rotate(-16 627.9 438.0)" stroke-width="1.4" fill="#fff" />
<clipPath id="c3"><ellipse cx="627.9" cy="438.0" rx="5.5" ry="14.4" transform="rotate(-16 627.9 438.0)"/></clipPath>
<g clip-path="url(#c3)">
<polygon points="623.3,429.0 630.0,426.8 634.5,432.0 636.8,442.5 633.8,448.5 626.3,447.0 622.5,438.0" fill="#000" stroke="none"/>
<polyline points="621.8,432.0 634.5,429.0" stroke-width="1.1" fill="none" stroke="#fff"/>
<polyline points="621.8,438.0 634.5,435.0" stroke-width="1.1" fill="none" stroke="#fff"/>
<polyline points="621.8,444.0 634.5,441.0" stroke-width="1.1" fill="none" stroke="#fff"/>
</g>
<ellipse cx="708.4" cy="411.2" rx="8.4" ry="13.0" transform="rotate(-12 708.4 411.2)" stroke-width="1.6" fill="none" />
<ellipse cx="708.4" cy="411.2" rx="5.4" ry="9.8" transform="rotate(-12 708.4 411.2)" stroke-width="1.4" fill="none" />
<polygon points="773.6,351.2 774.5,351.0 775.4,351.0 776.3,351.1 777.2,351.4 778.1,351.7 779.1,352.2 780.1,352.8 781.1,353.6 782.1,354.4 783.0,355.4 784.0,356.5 785.0,357.7 786.0,358.9 786.9,360.3 787.8,361.8 788.7,363.3 789.6,365.0 790.5,366.7 791.3,368.4 792.0,370.2 792.7,372.1 793.4,374.0 794.0,375.9 794.6,377.8 795.1,379.8 795.6,381.8 796.0,383.7 796.4,385.7 796.6,387.6 796.9,389.5 797.0,391.4 797.1,393.2 797.1,395.0 797.1,396.7 797.0,398.3 796.8,399.9 796.6,401.4 796.3,402.8 796.0,404.1 795.6,405.3 795.1,406.4 794.6,407.4 794.0,408.2 793.3,409.0 792.7,409.7 791.9,410.2 791.2,410.6 790.4,410.8 766.4,416.8 765.5,417.0 764.6,417.0 763.7,416.9 762.8,416.6 761.9,416.3 760.9,415.8 759.9,415.2 758.9,414.4 757.9,413.6 757.0,412.6 756.0,411.5 755.0,410.3 754.0,409.1 753.1,407.7 752.2,406.2 751.3,404.7 750.4,403.0 749.5,401.3 748.7,399.6 748.0,397.8 747.3,395.9 746.6,394.0 746.0,392.1 745.4,390.2 744.9,388.2 744.4,386.2 744.0,384.3 743.6,382.3 743.4,380.4 743.1,378.5 743.0,376.6 742.9,374.8 742.9,373.0 742.9,371.3 743.0,369.7 743.2,368.1 743.4,366.6 743.7,365.2 744.0,363.9 744.4,362.7 744.9,361.6 745.4,360.6 746.0,359.8 746.7,359.0 747.3,358.3 748.1,357.8 748.8,357.4 749.6,357.2" stroke-width="1.8" fill="#fff" stroke-linejoin="round" />
<ellipse cx="758.0" cy="387.0" rx="13.0" ry="31.0" transform="rotate(-16 758.0 387.0)" stroke-width="1.8" fill="#fff" />
<polygon points="749.6,357.2 750.0,357.1 750.4,357.0 750.7,357.0 774.7,351.0 774.4,351.0 774.0,351.1 773.6,351.2" fill="#000" stroke="none"/>
<polygon points="753.5,357.5 753.9,357.6 754.4,357.8 754.8,358.0 778.8,352.0 778.4,351.8 777.9,351.6 777.5,351.5" fill="#000" stroke="none"/>
<polygon points="757.8,360.2 758.2,360.6 758.6,361.0 759.1,361.4 783.1,355.4 782.6,355.0 782.2,354.6 781.8,354.2" fill="#000" stroke="none"/>
<polygon points="762.1,365.1 762.5,365.7 762.9,366.3 763.3,366.9 787.3,360.9 786.9,360.3 786.5,359.7 786.1,359.1" fill="#000" stroke="none"/>
<polygon points="766.0,371.7 766.4,372.5 766.7,373.2 767.1,374.0 791.1,368.0 790.7,367.2 790.4,366.5 790.0,365.7" fill="#000" stroke="none"/>
<polygon points="769.3,379.6 769.6,380.5 769.9,381.3 770.1,382.1 794.1,376.1 793.9,375.3 793.6,374.5 793.3,373.6" fill="#000" stroke="none"/>
<polygon points="771.7,388.1 771.9,389.0 772.0,389.8 772.2,390.7 796.2,384.7 796.0,383.8 795.9,383.0 795.7,382.1" fill="#000" stroke="none"/>
<polygon points="773.0,396.5 773.0,397.3 773.1,398.1 773.1,398.9 797.1,392.9 797.1,392.1 797.0,391.3 797.0,390.5" fill="#000" stroke="none"/>
<polygon points="773.0,404.2 773.0,404.9 772.9,405.5 772.8,406.2 796.8,400.2 796.9,399.5 797.0,398.9 797.0,398.2" fill="#000" stroke="none"/>
<polygon points="771.9,410.4 771.7,410.9 771.5,411.4 771.3,411.9 795.3,405.9 795.5,405.4 795.7,404.9 795.9,404.4" fill="#000" stroke="none"/>
<polygon points="769.6,414.7 769.3,415.1 769.0,415.4 768.7,415.6 792.7,409.6 793.0,409.4 793.3,409.1 793.6,408.7" fill="#000" stroke="none"/>
<polyline points="769.1,352.2 769.8,351.3 771.3,352.4 772.1,351.8 772.4,349.4 773.4,349.2 774.8,351.0 775.8,351.0 776.5,349.3 777.6,349.7 779.0,352.1 780.1,352.8 781.1,351.9 782.3,352.9 783.3,355.7 784.4,357.0 785.7,356.9 786.9,358.5 787.6,361.4 788.6,363.1 790.1,363.9 791.1,365.9 791.4,368.8 792.2,370.8 793.7,372.3 794.5,374.6 794.4,377.1 795.0,379.3 796.4,381.5 796.9,383.9 796.4,385.8 796.7,388.0 797.9,390.7 798.0,392.9 797.1,394.1 797.1,396.1 798.0,399.0 797.8,400.9 796.6,401.3 796.3,402.9 796.8,405.8 796.3,407.2 794.9,406.8 794.3,407.9 794.3,410.5" stroke-width="1.6" fill="none" />
<polygon points="771.4,383.2 772.0,385.4 771.6,387.7 772.0,389.8 773.4,392.3 773.7,394.6 772.9,396.1 773.1,398.1 774.2,401.0 774.2,403.1 773.0,403.8 772.9,405.5 773.7,408.6 773.3,410.2 771.9,410.1 771.5,411.4 771.9,414.4 771.3,415.6 769.7,414.6 769.0,415.4 769.0,418.0 768.1,418.6 766.5,416.8 765.6,417.0 765.2,419.1 764.1,419.0 762.7,416.6 761.6,416.2 760.8,417.6 759.6,416.8 758.4,414.0 757.4,413.0 756.2,413.6 755.0,412.3 754.2,409.2 753.1,407.7 751.7,407.5 750.6,405.7 750.2,402.6 749.3,400.8 747.7,399.7 746.9,397.5 746.8,394.8 746.1,392.7 744.6,390.8 744.0,388.6 744.4,386.3 744.0,384.2 742.6,381.7 742.3,379.4 743.1,377.9 742.9,375.9 741.8,373.0 741.8,370.9 743.0,370.2 743.1,368.5 742.3,365.4 742.7,363.8 744.1,363.9 744.5,362.6 744.1,359.6 744.7,358.4 746.3,359.4 747.0,358.6 747.0,356.0 747.9,355.4 749.5,357.2 750.4,357.0 750.8,354.9 751.9,355.0 753.3,357.4 754.4,357.8 755.2,356.4 756.4,357.2 757.6,360.0 758.6,361.0 759.8,360.4 761.0,361.7 761.8,364.8 762.9,366.3 764.3,366.5 765.4,368.3 765.8,371.4 766.7,373.2 768.3,374.3 769.1,376.5 769.2,379.2 769.9,381.3 771.4,383.2" fill="#fff" stroke-width="1.3" stroke-linejoin="round"/>
<ellipse cx="758.5" cy="387.0" rx="11.5" ry="29.0" transform="rotate(-16 758.5 387.0)" stroke-width="0.8" fill="none" />
<ellipse cx="765.0" cy="385.5" rx="12.0" ry="22.5" transform="rotate(-16 765.0 385.5)" stroke-width="1.6" fill="#fff" />
<ellipse cx="764.2" cy="387.0" rx="6.5" ry="12.0" transform="rotate(-16 764.2 387.0)" stroke-width="1" fill="#000" />
<polygon points="845.2,324.9 846.2,324.6 847.3,324.5 848.4,324.5 849.6,324.7 850.8,325.1 851.9,325.5 853.2,326.2 854.4,327.0 855.6,327.9 856.8,328.9 858.0,330.1 859.2,331.4 860.4,332.8 861.6,334.4 862.7,336.0 863.9,337.8 864.9,339.6 866.0,341.6 867.0,343.6 867.9,345.7 868.8,347.8 869.6,350.0 870.4,352.2 871.1,354.5 871.7,356.8 872.3,359.1 872.8,361.4 873.2,363.7 873.6,366.0 873.9,368.2 874.1,370.4 874.2,372.6 874.2,374.7 874.2,376.8 874.0,378.7 873.8,380.6 873.5,382.4 873.2,384.2 872.7,385.8 872.2,387.2 871.6,388.6 871.0,389.9 870.3,391.0 869.5,392.0 868.7,392.8 867.8,393.5 866.8,394.1 865.8,394.5 844.8,401.5 843.8,401.8 842.7,401.9 841.6,401.9 840.4,401.7 839.2,401.3 838.1,400.9 836.8,400.2 835.6,399.4 834.4,398.5 833.2,397.5 832.0,396.3 830.8,395.0 829.6,393.6 828.4,392.0 827.3,390.4 826.1,388.6 825.1,386.8 824.0,384.8 823.0,382.8 822.1,380.7 821.2,378.6 820.4,376.4 819.6,374.2 818.9,371.9 818.3,369.6 817.7,367.3 817.2,365.0 816.8,362.7 816.4,360.4 816.1,358.2 815.9,356.0 815.8,353.8 815.8,351.7 815.8,349.6 816.0,347.7 816.2,345.8 816.5,344.0 816.8,342.2 817.3,340.6 817.8,339.2 818.4,337.8 819.0,336.5 819.7,335.4 820.5,334.4 821.3,333.6 822.2,332.9 823.2,332.3 824.2,331.9" stroke-width="2.0" fill="#fff" stroke-linejoin="round" />
<ellipse cx="834.5" cy="366.7" rx="16.4" ry="36.3" transform="rotate(-16 834.5 366.7)" stroke-width="2.0" fill="#fff" />
<polyline points="830.5,329.8 831.7,329.5 833.1,329.4 834.4,329.5 835.8,329.9 837.2,330.4 838.7,331.2 840.2,332.2 841.6,333.4 843.1,334.8 844.5,336.3 846.0,338.0 847.4,339.9 848.7,342.0 850.0,344.2 851.3,346.5 852.5,348.9 853.6,351.4 854.6,354.0 855.5,356.7 856.4,359.4 857.2,362.1 857.8,364.9 858.4,367.7 858.8,370.4 859.2,373.1 859.4,375.8 859.5,378.4 859.5,380.9 859.4,383.3 859.1,385.5 858.8,387.7 858.3,389.7 857.7,391.6 857.1,393.3 856.3,394.8 855.4,396.1 854.5,397.2 853.4,398.2 852.3,398.9 851.1,399.4" stroke-width="1.3" fill="none" />
<polyline points="834.7,328.4 835.9,328.1 837.3,328.0 838.6,328.1 840.0,328.5 841.4,329.0 842.9,329.8 844.4,330.8 845.8,332.0 847.3,333.4 848.7,334.9 850.2,336.6 851.6,338.5 852.9,340.6 854.2,342.8 855.5,345.1 856.7,347.5 857.8,350.0 858.8,352.6 859.7,355.3 860.6,358.0 861.4,360.7 862.0,363.5 862.6,366.3 863.0,369.0 863.4,371.7 863.6,374.4 863.7,377.0 863.7,379.5 863.6,381.9 863.3,384.1 863.0,386.3 862.5,388.3 861.9,390.2 861.3,391.9 860.5,393.4 859.6,394.7 858.7,395.8 857.6,396.8 856.5,397.5 855.3,398.0" stroke-width="2.2" fill="none" />
<polyline points="837.2,327.5 838.5,327.2 839.8,327.2 841.1,327.3 842.5,327.6 844.0,328.2 845.4,329.0 846.9,330.0 848.3,331.1 849.8,332.5 851.3,334.1 852.7,335.8 854.1,337.7 855.4,339.7 856.7,341.9 858.0,344.2 859.2,346.7 860.3,349.2 861.3,351.8 862.3,354.4 863.1,357.2 863.9,359.9 864.5,362.7 865.1,365.4 865.5,368.2 865.9,370.9 866.1,373.5 866.2,376.1 866.2,378.6 866.1,381.0 865.8,383.3 865.5,385.5 865.0,387.5 864.5,389.3 863.8,391.0 863.0,392.5 862.1,393.9 861.2,395.0 860.1,395.9 859.0,396.7 857.8,397.2" stroke-width="1.0" fill="none" />
<polyline points="841.4,326.1 842.7,325.8 844.0,325.8 845.3,325.9 846.7,326.2 848.2,326.8 849.6,327.6 851.1,328.6 852.5,329.7 854.0,331.1 855.5,332.7 856.9,334.4 858.3,336.3 859.6,338.3 860.9,340.5 862.2,342.8 863.4,345.3 864.5,347.8 865.5,350.4 866.5,353.0 867.3,355.8 868.1,358.5 868.7,361.3 869.3,364.0 869.7,366.8 870.1,369.5 870.3,372.1 870.4,374.7 870.4,377.2 870.3,379.6 870.0,381.9 869.7,384.1 869.2,386.1 868.7,387.9 868.0,389.6 867.2,391.1 866.3,392.5 865.4,393.6 864.3,394.5 863.2,395.3 862.0,395.8" stroke-width="2.2" fill="none" />
<ellipse cx="834.5" cy="366.7" rx="16.4" ry="36.3" transform="rotate(-16 834.5 366.7)" stroke-width="2.4" fill="#fff" />
<ellipse cx="835.5" cy="365.3" rx="13.7" ry="30.1" transform="rotate(-16 835.5 365.3)" stroke-width="1.4" fill="#fff" />
<clipPath id="c4"><ellipse cx="835.5" cy="365.3" rx="13.7" ry="30.1" transform="rotate(-16 835.5 365.3)"/></clipPath>
<g clip-path="url(#c4)">
<polygon points="844.0,394.2 843.6,394.3 843.1,394.4 842.6,394.5 855.6,390.3 856.1,390.2 856.6,390.1 857.0,390.0" fill="#000" stroke="none"/>
<polygon points="840.6,394.4 840.1,394.3 839.6,394.1 839.1,393.9 852.1,389.7 852.6,389.9 853.1,390.1 853.6,390.2" fill="#000" stroke="none"/>
<polygon points="836.9,392.8 836.4,392.5 835.9,392.1 835.4,391.7 848.4,387.5 848.9,387.9 849.4,388.3 849.9,388.6" fill="#000" stroke="none"/>
<polygon points="833.2,389.7 832.7,389.2 832.2,388.6 831.6,388.0 844.6,383.8 845.2,384.4 845.7,385.0 846.2,385.5" fill="#000" stroke="none"/>
<polygon points="829.6,385.2 829.1,384.5 828.6,383.7 828.1,382.9 841.1,378.7 841.6,379.5 842.1,380.3 842.6,381.0" fill="#000" stroke="none"/>
<polygon points="826.3,379.5 825.9,378.6 825.5,377.7 825.1,376.8 838.1,372.6 838.5,373.5 838.9,374.4 839.3,375.3" fill="#000" stroke="none"/>
<polygon points="823.5,373.0 823.2,372.0 822.9,371.1 822.6,370.1 835.6,365.9 835.9,366.9 836.2,367.8 836.5,368.8" fill="#000" stroke="none"/>
<polygon points="821.5,366.0 821.3,365.0 821.1,364.0 820.9,363.1 833.9,358.9 834.1,359.8 834.3,360.8 834.5,361.8" fill="#000" stroke="none"/>
<polygon points="820.3,359.0 820.2,358.0 820.1,357.1 820.0,356.1 833.0,351.9 833.1,352.9 833.2,353.8 833.3,354.8" fill="#000" stroke="none"/>
<polygon points="819.9,352.4 819.9,351.5 820.0,350.6 820.0,349.8 833.0,345.6 833.0,346.4 832.9,347.3 832.9,348.2" fill="#000" stroke="none"/>
<polygon points="820.5,346.5 820.6,345.7 820.8,345.0 821.0,344.3 834.0,340.1 833.8,340.8 833.6,341.5 833.5,342.3" fill="#000" stroke="none"/>
<polygon points="821.9,341.7 822.2,341.1 822.4,340.6 822.7,340.1 835.7,335.9 835.4,336.4 835.2,336.9 834.9,337.5" fill="#000" stroke="none"/>
<polygon points="824.1,338.3 824.5,337.9 824.9,337.6 825.3,337.3 838.3,333.1 837.9,333.4 837.5,333.7 837.1,334.1" fill="#000" stroke="none"/>
<polygon points="861.5,357.4 862.0,359.2 861.6,361.0 862.0,362.7 863.2,364.6 863.4,366.4 862.8,367.7 863.0,369.4 864.0,371.6 864.0,373.3 863.1,374.1 863.1,375.6 863.9,378.0 863.7,379.5 862.6,379.7 862.4,381.0 862.9,383.4 862.5,384.6 861.3,384.3 860.8,385.2 861.1,387.6 860.5,388.4 859.2,387.4 858.6,388.0 858.5,390.2 857.8,390.5 856.5,389.1 855.8,389.3 855.4,391.1 854.5,391.0 853.4,389.1 852.5,388.9 851.9,390.2 850.9,389.7 849.9,387.5 849.0,386.9 848.1,387.7 847.2,386.8 846.4,384.4 845.5,383.4 844.4,383.6 843.5,382.4 843.0,379.9 842.2,378.6 840.9,378.2 840.1,376.7 839.9,374.3 839.2,372.8 837.9,371.8 837.2,370.1 837.3,368.0 836.8,366.3 835.5,364.8 835.0,363.0 835.4,361.2 835.0,359.5 833.8,357.6 833.6,355.8 834.2,354.5 834.0,352.8 833.0,350.6 833.0,348.9 833.9,348.1 833.9,346.6 833.1,344.2 833.3,342.7 834.4,342.5 834.6,341.2 834.1,338.8 834.5,337.6 835.7,337.9 836.2,337.0 835.9,334.6 836.5,333.8 837.8,334.8 838.4,334.2 838.5,332.0 839.2,331.7 840.5,333.1 841.2,332.9 841.6,331.1 842.5,331.2 843.6,333.1 844.5,333.3 845.1,332.0 846.1,332.5 847.1,334.7 848.0,335.3 848.9,334.5 849.8,335.4 850.6,337.8 851.5,338.8 852.6,338.6 853.5,339.8 854.0,342.3 854.8,343.6 856.1,344.0 856.9,345.5 857.1,347.9 857.8,349.4 859.1,350.4 859.8,352.1 859.7,354.2 860.2,355.9 861.5,357.4" stroke-width="1.4" fill="none" />
</g>
<ellipse cx="835.5" cy="365.3" rx="13.7" ry="30.1" transform="rotate(-16 835.5 365.3)" stroke-width="2.6" fill="none" />
<ellipse cx="718.8" cy="637.0" rx="13.5" ry="21.9" transform="rotate(-16 718.8 637.0)" stroke-width="1.6" fill="none" />
<ellipse cx="719.2" cy="637.0" rx="6.8" ry="17.2" transform="rotate(-16 719.2 637.0)" stroke-width="1.6" fill="none" />
<path d="M751.8,582.9 C753.2,581.0 755.8,578.8 757.9,577.6 C760.1,576.3 762.3,575.5 764.7,575.3 C767.1,575.1 770.0,575.8 772.3,576.4 C774.6,577.1 776.3,578.1 778.4,579.1 C780.4,580.0 782.4,580.9 784.4,582.1 C786.4,583.3 788.7,584.8 790.5,586.3 C792.3,587.8 793.5,589.1 795.0,591.2 C796.5,593.3 798.3,596.0 799.6,598.8 C800.8,601.6 801.7,604.8 802.6,607.9 C803.5,610.9 804.4,613.8 804.9,617.0 C805.4,620.1 805.7,623.8 805.6,626.8 C805.6,629.8 805.0,632.6 804.5,635.2 C804.0,637.7 803.6,639.8 802.6,642.0 C801.7,644.1 800.1,646.4 798.8,648.0 C797.6,649.7 796.5,650.6 795.0,651.8 C793.5,653.1 791.5,654.6 789.7,655.6 C788.0,656.6 786.3,657.6 784.4,657.9 C782.5,658.1 780.4,657.8 778.4,657.1 C776.3,656.5 774.3,655.2 772.3,654.1 C770.3,653.0 768.1,651.7 766.2,650.3 C764.3,648.9 762.8,647.8 760.9,645.8 C759.0,643.7 756.6,640.7 754.9,638.2 C753.1,635.7 751.5,633.4 750.3,630.6 C749.2,627.8 748.6,624.7 748.1,621.5 C747.6,618.4 747.4,614.7 747.3,611.7 C747.2,608.6 747.6,605.9 747.7,603.3 C747.8,600.8 747.7,598.9 748.1,596.5 C748.4,594.1 748.9,591.2 749.6,588.9 C750.2,586.7 750.5,584.8 751.8,582.9 Z" stroke-width="1.8" fill="#fff" stroke-linejoin="round" />
<path d="M778.4,579.8 C779.4,580.5 782.7,582.1 784.4,583.6 C786.2,585.2 787.2,586.7 789.0,588.9 C790.7,591.2 793.3,594.4 795.0,597.3 C796.8,600.2 798.4,603.1 799.6,606.4 C800.8,609.6 801.6,613.6 802.2,617.0 C802.9,620.4 803.3,623.8 803.4,626.8 C803.4,629.8 802.9,633.3 802.6,635.2 C802.4,637.0 802.0,637.7 801.8,638.2" stroke-width="1.3" fill="none" stroke-linejoin="round" />
<path d="M748.8,597.3 C750.0,597.1 753.1,596.5 755.6,596.5 C758.2,596.5 761.6,596.4 764.0,597.3 C766.4,598.2 768.0,599.3 770.0,601.8 C772.1,604.3 774.6,608.9 776.1,612.4 C777.6,616.0 778.6,620.0 779.1,623.0 C779.6,626.1 779.4,628.1 779.1,630.6 C778.9,633.1 778.4,636.2 777.6,638.2 C776.8,640.2 776.1,641.6 774.6,642.7 C773.1,643.9 770.3,644.6 768.5,645.0 C766.7,645.4 764.7,645.0 764.0,645.0" stroke-width="1.5" fill="none" stroke-linejoin="round" />
<ellipse cx="760.9" cy="621.5" rx="9.5" ry="25.1" transform="rotate(-22 760.9 621.5)" stroke-width="1.8" fill="#fff" />
<polyline points="754.9,601.8 761.7,604.1 767.0,610.9 771.5,621.5 773.1,630.6 772.3,638.2" stroke-width="3.0" fill="none" />
<ellipse cx="782.9" cy="604.5" rx="2.2" ry="5.2" transform="rotate(-60 782.9 604.5)" stroke-width="1.5" fill="none" />
<polyline points="756.4,587.4 764.0,586.7 768.5,587.4 770.8,585.2 774.6,583.6" stroke-width="1.2" fill="none" />
<polyline points="773.8,592.7 777.6,592.0" stroke-width="1.2" fill="none" />
<polyline points="786.7,617.0 791.2,616.2" stroke-width="1.2" fill="none" />
<polyline points="789.0,621.5 790.5,624.5 787.5,627.6" stroke-width="1.2" fill="none" />
<polyline points="790.5,629.1 794.3,632.1 793.5,638.2 789.0,639.7" stroke-width="1.2" fill="none" />
<polyline points="783.7,642.0 787.5,645.8 784.4,651.8 789.0,653.3" stroke-width="1.2" fill="none" />
<polyline points="777.6,648.8 782.9,647.3" stroke-width="1.2" fill="none" />
<polyline points="787.5,592.7 790.5,591.2" stroke-width="1.2" fill="none" />
<polyline points="795.0,636.7 799.6,638.2" stroke-width="1.2" fill="none" />
<polygon points="836.6,574.4 837.3,574.2 837.9,574.1 838.6,574.1 839.3,574.2 840.0,574.3 840.7,574.6 841.4,574.9 842.1,575.2 842.8,575.7 843.5,576.2 844.3,576.9 845.0,577.5 845.6,578.3 846.3,579.1 847.0,580.0 847.6,580.9 848.2,581.9 848.8,582.9 849.4,584.0 849.9,585.1 850.4,586.2 850.9,587.4 851.3,588.6 851.7,589.8 852.1,591.0 852.4,592.3 852.7,593.5 852.9,594.8 853.0,596.0 853.2,597.2 853.3,598.4 853.3,599.6 853.3,600.8 853.2,601.9 853.1,603.0 853.0,604.0 852.8,605.0 852.5,605.9 852.3,606.8 851.9,607.7 851.6,608.4 851.1,609.1 850.7,609.8 850.2,610.3 849.7,610.8 849.2,611.2 848.6,611.6 848.0,611.8 838.0,615.3 837.3,615.5 836.7,615.6 836.0,615.6 835.3,615.5 834.6,615.4 833.9,615.1 833.2,614.8 832.5,614.5 831.8,614.0 831.1,613.5 830.3,612.8 829.6,612.2 829.0,611.4 828.3,610.6 827.6,609.7 827.0,608.8 826.4,607.8 825.8,606.8 825.2,605.7 824.7,604.6 824.2,603.5 823.7,602.3 823.3,601.1 822.9,599.9 822.5,598.7 822.2,597.4 821.9,596.2 821.7,594.9 821.6,593.7 821.4,592.5 821.3,591.3 821.3,590.1 821.3,588.9 821.4,587.8 821.5,586.7 821.6,585.7 821.8,584.7 822.1,583.8 822.3,582.9 822.7,582.0 823.0,581.3 823.5,580.6 823.9,579.9 824.4,579.4 824.9,578.9 825.4,578.5 826.0,578.1 826.6,577.9" stroke-width="1.7" fill="#fff" stroke-linejoin="round" />
<ellipse cx="832.3" cy="596.6" rx="10.0" ry="19.6" transform="rotate(-16 832.3 596.6)" stroke-width="1.7" fill="#fff" />
<ellipse cx="833.6" cy="598.0" rx="9.3" ry="15.1" transform="rotate(-16 833.6 598.0)" stroke-width="1.0" fill="none" />
<ellipse cx="833.6" cy="598.0" rx="7.1" ry="12.3" transform="rotate(-16 833.6 598.0)" stroke-width="1.5" fill="none" />
<ellipse cx="834.0" cy="598.0" rx="3.5" ry="7.0" transform="rotate(-16 834.0 598.0)" stroke-width="1.4" fill="none" />
<ellipse cx="838.7" cy="596.5" rx="1.2" ry="1.2" transform="rotate(0 838.7 596.5)" stroke-width="0.8" fill="none" />
<ellipse cx="838.9" cy="604.7" rx="1.2" ry="1.2" transform="rotate(0 838.9 604.7)" stroke-width="0.8" fill="none" />
<ellipse cx="835.2" cy="607.8" rx="1.2" ry="1.2" transform="rotate(0 835.2 607.8)" stroke-width="0.8" fill="none" />
<ellipse cx="830.2" cy="603.5" rx="1.2" ry="1.2" transform="rotate(0 830.2 603.5)" stroke-width="0.8" fill="none" />
<ellipse cx="827.8" cy="595.1" rx="1.2" ry="1.2" transform="rotate(0 827.8 595.1)" stroke-width="0.8" fill="none" />
<ellipse cx="829.8" cy="588.8" rx="1.2" ry="1.2" transform="rotate(0 829.8 588.8)" stroke-width="0.8" fill="none" />
<ellipse cx="834.6" cy="589.5" rx="1.2" ry="1.2" transform="rotate(0 834.6 589.5)" stroke-width="0.8" fill="none" />
<ellipse cx="861.7" cy="587.0" rx="6.6" ry="9.4" transform="rotate(-14 861.7 587.0)" stroke-width="1.6" fill="none" />
<ellipse cx="861.7" cy="587.0" rx="3.8" ry="6.2" transform="rotate(-14 861.7 587.0)" stroke-width="1.4" fill="none" />
<polygon points="679.6,647.0 679.9,646.9 680.2,646.9 680.6,646.9 680.9,646.9 681.3,647.0 681.6,647.1 682.0,647.3 682.3,647.5 682.7,647.7 683.1,647.9 683.4,648.2 683.8,648.6 684.1,648.9 684.5,649.3 684.8,649.7 685.1,650.2 685.5,650.7 685.8,651.2 686.1,651.7 686.3,652.2 686.6,652.8 686.8,653.3 687.1,653.9 687.3,654.5 687.4,655.1 687.6,655.7 687.8,656.3 687.9,656.9 688.0,657.5 688.0,658.1 688.1,658.6 688.1,659.2 688.1,659.8 688.1,660.3 688.1,660.8 688.0,661.3 687.9,661.8 687.8,662.2 687.7,662.7 687.5,663.1 687.3,663.4 687.1,663.8 686.9,664.1 686.7,664.3 686.4,664.6 686.1,664.8 685.9,664.9 685.6,665.1 640.0,680.1 639.7,680.2 639.3,680.3 639.0,680.3 638.7,680.2 638.3,680.1 638.0,680.0 637.6,679.9 637.2,679.7 636.9,679.5 636.5,679.2 636.1,678.9 635.8,678.6 635.4,678.2 635.1,677.8 634.8,677.4 634.4,677.0 634.1,676.5 633.8,676.0 633.5,675.5 633.2,674.9 633.0,674.4 632.7,673.8 632.5,673.2 632.3,672.7 632.1,672.1 632.0,671.5 631.8,670.9 631.7,670.3 631.6,669.7 631.5,669.1 631.5,668.5 631.4,667.9 631.4,667.4 631.5,666.8 631.5,666.3 631.6,665.8 631.7,665.4 631.8,664.9 631.9,664.5 632.1,664.1 632.2,663.7 632.4,663.4 632.7,663.1 632.9,662.8 633.2,662.6 633.4,662.4 633.7,662.2 634.0,662.1" stroke-width="1.6" fill="#fff" stroke-linejoin="round" />
<ellipse cx="637.0" cy="671.1" rx="4.9" ry="9.5" transform="rotate(-18.3 637.0 671.1)" stroke-width="1.6" fill="#fff" />
<line x1="635.0" y1="662.0" x2="680.6" y2="646.9" stroke-width="1.2" />
<line x1="637.1" y1="662.7" x2="682.7" y2="647.7" stroke-width="1.2" />
<line x1="639.2" y1="664.8" x2="684.8" y2="649.7" stroke-width="1.2" />
<line x1="641.0" y1="667.8" x2="686.6" y2="652.8" stroke-width="1.2" />
<line x1="642.2" y1="671.3" x2="687.8" y2="656.3" stroke-width="1.2" />
<line x1="642.6" y1="674.8" x2="688.1" y2="659.8" stroke-width="1.2" />
<line x1="642.1" y1="677.7" x2="687.7" y2="662.7" stroke-width="1.2" />
<line x1="640.8" y1="679.7" x2="686.4" y2="664.6" stroke-width="1.2" />
<polygon points="634.0,662.1 634.3,662.0 634.7,662.0 635.0,662.0 635.3,662.0 635.7,662.1 636.0,662.2 636.4,662.3 636.8,662.5 637.1,662.7 637.5,663.0 637.8,663.3 638.2,663.6 638.6,664.0 638.9,664.4 639.2,664.8 639.6,665.3 639.9,665.7 640.2,666.2 640.5,666.7 640.8,667.3 641.0,667.8 641.3,668.4 641.5,669.0 641.7,669.6 641.9,670.2 642.0,670.7 642.2,671.3 642.3,671.9 642.4,672.5 642.5,673.1 642.5,673.7 642.6,674.3 642.6,674.8 642.5,675.4 642.5,675.9 642.4,676.4 642.3,676.9 642.2,677.3 642.1,677.7 641.9,678.1 641.7,678.5 641.5,678.8 641.3,679.2 641.1,679.4 640.8,679.7 640.6,679.8 640.3,680.0 640.0,680.1 630.5,683.3 630.2,683.4 629.8,683.4 629.5,683.4 629.2,683.4 628.8,683.3 628.5,683.2 628.1,683.0 627.7,682.8 627.4,682.6 627.0,682.3 626.7,682.1 626.3,681.7 625.9,681.4 625.6,681.0 625.3,680.5 624.9,680.1 624.6,679.6 624.3,679.1 624.0,678.6 623.7,678.1 623.5,677.5 623.2,677.0 623.0,676.4 622.8,675.8 622.6,675.2 622.5,674.6 622.3,674.0 622.2,673.4 622.1,672.8 622.0,672.2 622.0,671.7 622.0,671.1 621.9,670.5 622.0,670.0 622.0,669.5 622.1,669.0 622.2,668.5 622.3,668.0 622.4,667.6 622.6,667.2 622.8,666.8 623.0,666.5 623.2,666.2 623.4,665.9 623.7,665.7 623.9,665.5 624.2,665.4 624.5,665.2" stroke-width="1.6" fill="#fff" stroke-linejoin="round" />
<ellipse cx="627.5" cy="674.2" rx="4.9" ry="9.5" transform="rotate(-18.3 627.5 674.2)" stroke-width="1.6" fill="#fff" />
<polygon points="623.9,663.3 624.3,663.2 624.7,663.2 625.1,663.2 625.5,663.2 625.9,663.3 626.3,663.4 626.8,663.6 627.2,663.9 627.7,664.1 628.1,664.4 628.5,664.8 629.0,665.2 629.4,665.6 629.8,666.1 630.2,666.6 630.6,667.2 631.0,667.7 631.4,668.3 631.7,669.0 632.1,669.6 632.4,670.3 632.7,671.0 632.9,671.7 633.2,672.4 633.4,673.1 633.6,673.8 633.8,674.5 633.9,675.3 634.0,676.0 634.1,676.7 634.2,677.4 634.2,678.1 634.2,678.8 634.2,679.4 634.2,680.0 634.1,680.6 634.0,681.2 633.8,681.8 633.7,682.3 633.5,682.8 633.3,683.2 633.0,683.6 632.7,684.0 632.5,684.3 632.2,684.6 631.8,684.8 631.5,685.0 631.1,685.2 578.9,702.4 578.5,702.5 578.1,702.6 577.7,702.6 577.3,702.6 576.9,702.5 576.4,702.3 576.0,702.1 575.6,701.9 575.1,701.6 574.7,701.3 574.3,701.0 573.8,700.6 573.4,700.1 573.0,699.7 572.6,699.1 572.2,698.6 571.8,698.0 571.4,697.4 571.1,696.8 570.7,696.2 570.4,695.5 570.1,694.8 569.9,694.1 569.6,693.4 569.4,692.7 569.2,692.0 569.0,691.2 568.9,690.5 568.7,689.8 568.7,689.1 568.6,688.4 568.6,687.7 568.6,687.0 568.6,686.4 568.6,685.7 568.7,685.1 568.8,684.5 569.0,684.0 569.1,683.5 569.3,683.0 569.5,682.6 569.8,682.2 570.0,681.8 570.3,681.5 570.6,681.2 571.0,680.9 571.3,680.7 571.7,680.6" stroke-width="1.6" fill="#fff" stroke-linejoin="round" />
<ellipse cx="575.3" cy="691.5" rx="6.0" ry="11.5" transform="rotate(-18.3 575.3 691.5)" stroke-width="1.6" fill="#fff" />
<clipPath id="c5"><polygon points="623.9,663.3 624.3,663.2 624.7,663.2 625.1,663.2 625.5,663.2 625.9,663.3 626.3,663.4 626.8,663.6 627.2,663.9 627.7,664.1 628.1,664.4 628.5,664.8 629.0,665.2 629.4,665.6 629.8,666.1 630.2,666.6 630.6,667.2 631.0,667.7 631.4,668.3 631.7,669.0 632.1,669.6 632.4,670.3 632.7,671.0 632.9,671.7 633.2,672.4 633.4,673.1 633.6,673.8 633.8,674.5 633.9,675.3 634.0,676.0 634.1,676.7 634.2,677.4 634.2,678.1 634.2,678.8 634.2,679.4 634.2,680.0 634.1,680.6 634.0,681.2 633.8,681.8 633.7,682.3 633.5,682.8 633.3,683.2 633.0,683.6 632.7,684.0 632.5,684.3 632.2,684.6 631.8,684.8 631.5,685.0 631.1,685.2 578.9,702.4 578.5,702.5 578.1,702.6 577.7,702.6 577.3,702.6 576.9,702.5 576.4,702.3 576.0,702.1 575.6,701.9 575.1,701.6 574.7,701.3 574.3,701.0 573.8,700.6 573.4,700.1 573.0,699.7 572.6,699.1 572.2,698.6 571.8,698.0 571.4,697.4 571.1,696.8 570.7,696.2 570.4,695.5 570.1,694.8 569.9,694.1 569.6,693.4 569.4,692.7 569.2,692.0 569.0,691.2 568.9,690.5 568.7,689.8 568.7,689.1 568.6,688.4 568.6,687.7 568.6,687.0 568.6,686.4 568.6,685.7 568.7,685.1 568.8,684.5 569.0,684.0 569.1,683.5 569.3,683.0 569.5,682.6 569.8,682.2 570.0,681.8 570.3,681.5 570.6,681.2 571.0,680.9 571.3,680.7 571.7,680.6"/></clipPath>
<g clip-path="url(#c5)">
<line x1="572.3" y1="680.5" x2="624.6" y2="663.2" stroke-width="1.9" />
<line x1="573.8" y1="680.6" x2="626.0" y2="663.3" stroke-width="1.9" />
<line x1="575.2" y1="681.3" x2="627.5" y2="664.0" stroke-width="1.9" />
<line x1="576.7" y1="682.5" x2="629.0" y2="665.2" stroke-width="1.9" />
<line x1="578.2" y1="684.1" x2="630.4" y2="666.9" stroke-width="1.9" />
<line x1="579.5" y1="686.1" x2="631.7" y2="668.9" stroke-width="1.9" />
<line x1="580.5" y1="688.4" x2="632.7" y2="671.2" stroke-width="1.9" />
<line x1="581.3" y1="690.9" x2="633.5" y2="673.6" stroke-width="1.9" />
<line x1="581.8" y1="693.4" x2="634.1" y2="676.1" stroke-width="1.9" />
<line x1="582.0" y1="695.7" x2="634.2" y2="678.5" stroke-width="1.9" />
<line x1="581.9" y1="697.9" x2="634.1" y2="680.6" stroke-width="1.9" />
<line x1="581.4" y1="699.8" x2="633.6" y2="682.5" stroke-width="1.9" />
<line x1="580.6" y1="701.2" x2="632.8" y2="683.9" stroke-width="1.9" />
<line x1="579.5" y1="702.2" x2="631.7" y2="684.9" stroke-width="1.9" />
<polyline points="577.9,678.5 578.9,678.4 579.9,678.5 580.9,678.9 582.0,679.5 583.0,680.4 584.0,681.5 585.0,682.8 585.8,684.3 586.6,685.9 587.2,687.6 587.7,689.3 588.1,691.0 588.2,692.7 588.3,694.3 588.1,695.8 587.8,697.2 587.3,698.3 586.7,699.3 586.0,699.9 585.2,700.4" stroke-width="2.2" fill="none" />
<polyline points="587.3,675.4 588.3,675.3 589.3,675.4 590.3,675.8 591.4,676.4 592.4,677.3 593.4,678.4 594.4,679.7 595.2,681.2 596.0,682.8 596.6,684.5 597.1,686.2 597.5,687.9 597.6,689.6 597.7,691.2 597.5,692.7 597.2,694.1 596.7,695.2 596.1,696.1 595.4,696.8 594.6,697.3" stroke-width="2.2" fill="none" />
<polyline points="595.2,672.8 596.1,672.7 597.1,672.8 598.1,673.2 599.2,673.8 600.2,674.7 601.3,675.8 602.2,677.1 603.1,678.6 603.8,680.2 604.5,681.9 605.0,683.6 605.3,685.3 605.5,687.0 605.5,688.6 605.4,690.1 605.0,691.5 604.6,692.6 604.0,693.6 603.2,694.2 602.4,694.7" stroke-width="2.2" fill="none" />
<polyline points="604.0,669.9 605.0,669.7 606.0,669.8 607.0,670.2 608.1,670.9 609.1,671.8 610.1,672.9 611.1,674.2 611.9,675.7 612.7,677.2 613.3,678.9 613.8,680.7 614.2,682.4 614.4,684.1 614.4,685.7 614.2,687.2 613.9,688.5 613.5,689.7 612.8,690.6 612.1,691.3 611.3,691.7" stroke-width="2.2" fill="none" />
<polyline points="613.4,666.8 614.4,666.6 615.4,666.7 616.4,667.1 617.5,667.8 618.5,668.7 619.5,669.8 620.5,671.1 621.3,672.5 622.1,674.1 622.7,675.8 623.2,677.6 623.6,679.3 623.8,681.0 623.8,682.6 623.6,684.1 623.3,685.4 622.9,686.6 622.2,687.5 621.5,688.2 620.7,688.6" stroke-width="2.2" fill="none" />
</g>
<polygon points="568.8,672.1 569.5,671.9 570.2,671.8 570.9,671.8 571.7,671.9 572.4,672.0 573.2,672.3 574.0,672.6 574.8,673.0 575.6,673.5 576.3,674.0 577.1,674.7 577.9,675.4 578.7,676.2 579.4,677.0 580.1,677.9 580.8,678.9 581.5,679.9 582.2,681.0 582.8,682.1 583.4,683.2 584.0,684.4 584.5,685.7 585.0,686.9 585.4,688.2 585.8,689.5 586.2,690.7 586.5,692.0 586.7,693.3 586.9,694.6 587.1,695.9 587.2,697.1 587.3,698.4 587.3,699.5 587.2,700.7 587.1,701.8 587.0,702.9 586.8,703.9 586.6,704.9 586.3,705.8 585.9,706.7 585.5,707.5 585.1,708.2 584.6,708.9 584.1,709.5 583.6,710.0 583.0,710.4 582.4,710.7 581.7,711.0 575.1,713.2 574.4,713.4 573.7,713.5 573.0,713.5 572.2,713.4 571.5,713.2 570.7,713.0 569.9,712.7 569.2,712.2 568.4,711.8 567.6,711.2 566.8,710.6 566.0,709.8 565.3,709.1 564.5,708.2 563.8,707.3 563.1,706.3 562.4,705.3 561.8,704.3 561.1,703.1 560.5,702.0 560.0,700.8 559.4,699.6 559.0,698.3 558.5,697.1 558.1,695.8 557.8,694.5 557.5,693.2 557.2,691.9 557.0,690.6 556.8,689.4 556.7,688.1 556.7,686.9 556.6,685.7 556.7,684.5 556.8,683.4 556.9,682.3 557.1,681.3 557.4,680.3 557.7,679.4 558.0,678.5 558.4,677.7 558.8,677.0 559.3,676.4 559.8,675.8 560.4,675.3 560.9,674.9 561.6,674.5 562.2,674.3" stroke-width="1.6" fill="#fff" stroke-linejoin="round" />
<ellipse cx="568.6" cy="693.7" rx="10.7" ry="20.5" transform="rotate(-18.3 568.6 693.7)" stroke-width="1.6" fill="#fff" />
<ellipse cx="568.6" cy="693.7" rx="10.7" ry="20.5" transform="rotate(-18.3 568.6 693.7)" stroke-width="1.6" fill="#fff" />
<ellipse cx="570.6" cy="693.0" rx="7.5" ry="14.8" transform="rotate(-18.3 570.6 693.0)" stroke-width="1.0" fill="none" />
<polygon points="564.4,680.9 564.8,680.8 565.3,680.7 565.8,680.7 566.3,680.8 566.8,680.9 567.3,681.0 567.8,681.2 568.3,681.5 568.8,681.8 569.3,682.2 569.8,682.6 570.4,683.1 570.9,683.6 571.3,684.2 571.8,684.8 572.3,685.4 572.7,686.1 573.2,686.8 573.6,687.5 574.0,688.3 574.3,689.1 574.7,689.9 575.0,690.7 575.3,691.5 575.6,692.4 575.8,693.2 576.0,694.1 576.2,694.9 576.3,695.7 576.4,696.6 576.5,697.4 576.5,698.2 576.5,699.0 576.5,699.8 576.4,700.5 576.3,701.2 576.2,701.9 576.1,702.5 575.9,703.1 575.6,703.7 575.4,704.2 575.1,704.7 574.8,705.1 574.5,705.5 574.1,705.9 573.7,706.1 573.3,706.4 572.9,706.5 548.2,714.7 547.7,714.8 547.3,714.9 546.8,714.9 546.3,714.8 545.8,714.7 545.3,714.6 544.8,714.4 544.3,714.1 543.8,713.8 543.3,713.4 542.7,713.0 542.2,712.5 541.7,712.0 541.2,711.4 540.8,710.8 540.3,710.2 539.9,709.5 539.4,708.8 539.0,708.1 538.6,707.3 538.2,706.5 537.9,705.7 537.6,704.9 537.3,704.1 537.0,703.2 536.8,702.4 536.6,701.5 536.4,700.7 536.3,699.8 536.2,699.0 536.1,698.2 536.1,697.4 536.1,696.6 536.1,695.8 536.1,695.1 536.2,694.4 536.4,693.7 536.5,693.1 536.7,692.4 537.0,691.9 537.2,691.4 537.5,690.9 537.8,690.5 538.1,690.1 538.5,689.7 538.9,689.5 539.3,689.2 539.7,689.1" stroke-width="1.6" fill="#fff" stroke-linejoin="round" />
<ellipse cx="544.0" cy="701.9" rx="7.0" ry="13.5" transform="rotate(-18.3 544.0 701.9)" stroke-width="1.6" fill="#fff" />
<polygon points="539.9,689.5 540.3,689.4 540.7,689.4 541.2,689.4 541.7,689.4 542.2,689.5 542.6,689.7 543.1,689.9 543.6,690.1 544.1,690.4 544.6,690.8 545.1,691.2 545.6,691.7 546.1,692.1 546.6,692.7 547.0,693.3 547.5,693.9 547.9,694.5 548.3,695.2 548.7,695.9 549.1,696.6 549.5,697.4 549.8,698.2 550.1,699.0 550.4,699.8 550.6,700.6 550.9,701.4 551.0,702.2 551.2,703.0 551.3,703.8 551.4,704.6 551.5,705.4 551.6,706.2 551.6,707.0 551.5,707.7 551.5,708.4 551.4,709.1 551.3,709.8 551.1,710.4 550.9,711.0 550.7,711.5 550.5,712.0 550.2,712.5 549.9,712.9 549.6,713.3 549.2,713.6 548.8,713.8 548.4,714.1 548.0,714.2 486.3,734.6 485.9,734.7 485.5,734.8 485.0,734.8 484.5,734.8 484.0,734.7 483.6,734.5 483.1,734.3 482.6,734.0 482.1,733.7 481.6,733.4 481.1,733.0 480.6,732.5 480.1,732.0 479.6,731.5 479.2,730.9 478.7,730.3 478.3,729.7 477.9,729.0 477.5,728.3 477.1,727.5 476.7,726.8 476.4,726.0 476.1,725.2 475.8,724.4 475.6,723.6 475.3,722.8 475.2,722.0 475.0,721.1 474.9,720.3 474.7,719.5 474.7,718.7 474.6,718.0 474.6,717.2 474.7,716.5 474.7,715.7 474.8,715.1 474.9,714.4 475.1,713.8 475.3,713.2 475.5,712.7 475.7,712.2 476.0,711.7 476.3,711.3 476.6,710.9 477.0,710.6 477.4,710.3 477.7,710.1 478.2,709.9" stroke-width="1.6" fill="#fff" stroke-linejoin="round" />
<ellipse cx="482.2" cy="722.3" rx="6.8" ry="13.0" transform="rotate(-18.3 482.2 722.3)" stroke-width="1.6" fill="#fff" />
<clipPath id="c6"><polygon points="539.9,689.5 540.3,689.4 540.7,689.4 541.2,689.4 541.7,689.4 542.2,689.5 542.6,689.7 543.1,689.9 543.6,690.1 544.1,690.4 544.6,690.8 545.1,691.2 545.6,691.7 546.1,692.1 546.6,692.7 547.0,693.3 547.5,693.9 547.9,694.5 548.3,695.2 548.7,695.9 549.1,696.6 549.5,697.4 549.8,698.2 550.1,699.0 550.4,699.8 550.6,700.6 550.9,701.4 551.0,702.2 551.2,703.0 551.3,703.8 551.4,704.6 551.5,705.4 551.6,706.2 551.6,707.0 551.5,707.7 551.5,708.4 551.4,709.1 551.3,709.8 551.1,710.4 550.9,711.0 550.7,711.5 550.5,712.0 550.2,712.5 549.9,712.9 549.6,713.3 549.2,713.6 548.8,713.8 548.4,714.1 548.0,714.2 486.3,734.6 485.9,734.7 485.5,734.8 485.0,734.8 484.5,734.8 484.0,734.7 483.6,734.5 483.1,734.3 482.6,734.0 482.1,733.7 481.6,733.4 481.1,733.0 480.6,732.5 480.1,732.0 479.6,731.5 479.2,730.9 478.7,730.3 478.3,729.7 477.9,729.0 477.5,728.3 477.1,727.5 476.7,726.8 476.4,726.0 476.1,725.2 475.8,724.4 475.6,723.6 475.3,722.8 475.2,722.0 475.0,721.1 474.9,720.3 474.7,719.5 474.7,718.7 474.6,718.0 474.6,717.2 474.7,716.5 474.7,715.7 474.8,715.1 474.9,714.4 475.1,713.8 475.3,713.2 475.5,712.7 475.7,712.2 476.0,711.7 476.3,711.3 476.6,710.9 477.0,710.6 477.4,710.3 477.7,710.1 478.2,709.9"/></clipPath>
<g clip-path="url(#c6)">
<line x1="478.9" y1="709.8" x2="540.6" y2="689.4" stroke-width="1.9" />
<line x1="480.5" y1="709.9" x2="542.2" y2="689.5" stroke-width="1.9" />
<line x1="482.2" y1="710.7" x2="543.9" y2="690.3" stroke-width="1.9" />
<line x1="483.9" y1="712.1" x2="545.6" y2="691.7" stroke-width="1.9" />
<line x1="485.5" y1="713.9" x2="547.2" y2="693.5" stroke-width="1.9" />
<line x1="487.0" y1="716.2" x2="548.7" y2="695.8" stroke-width="1.9" />
<line x1="488.2" y1="718.8" x2="549.9" y2="698.4" stroke-width="1.9" />
<line x1="489.1" y1="721.6" x2="550.8" y2="701.2" stroke-width="1.9" />
<line x1="489.6" y1="724.4" x2="551.4" y2="704.0" stroke-width="1.9" />
<line x1="489.8" y1="727.1" x2="551.6" y2="706.6" stroke-width="1.9" />
<line x1="489.7" y1="729.5" x2="551.4" y2="709.1" stroke-width="1.9" />
<line x1="489.1" y1="731.6" x2="550.8" y2="711.2" stroke-width="1.9" />
<line x1="488.2" y1="733.2" x2="549.9" y2="712.8" stroke-width="1.9" />
<line x1="487.0" y1="734.3" x2="548.7" y2="713.9" stroke-width="1.9" />
<polyline points="485.6,707.5 486.6,707.3 487.7,707.4 488.9,707.9 490.1,708.6 491.3,709.6 492.4,710.9 493.5,712.3 494.5,714.0 495.3,715.8 496.1,717.7 496.6,719.7 497.0,721.6 497.2,723.6 497.2,725.4 497.1,727.1 496.7,728.6 496.2,729.9 495.5,730.9 494.7,731.7 493.7,732.2" stroke-width="2.2" fill="none" />
<polyline points="496.7,703.8 497.7,703.6 498.9,703.8 500.0,704.2 501.2,704.9 502.4,705.9 503.5,707.2 504.6,708.7 505.6,710.3 506.5,712.1 507.2,714.0 507.7,716.0 508.1,718.0 508.3,719.9 508.3,721.7 508.2,723.4 507.8,724.9 507.3,726.2 506.6,727.2 505.8,728.0 504.8,728.5" stroke-width="2.2" fill="none" />
<polyline points="505.9,700.8 507.0,700.6 508.1,700.7 509.3,701.1 510.5,701.9 511.7,702.9 512.8,704.1 513.9,705.6 514.9,707.3 515.7,709.1 516.4,711.0 517.0,712.9 517.4,714.9 517.6,716.8 517.6,718.6 517.4,720.3 517.1,721.8 516.6,723.1 515.9,724.2 515.0,725.0 514.1,725.4" stroke-width="2.2" fill="none" />
<polyline points="516.4,697.3 517.5,697.1 518.6,697.2 519.8,697.7 521.0,698.4 522.2,699.4 523.3,700.7 524.4,702.1 525.3,703.8 526.2,705.6 526.9,707.5 527.5,709.5 527.9,711.4 528.1,713.3 528.1,715.2 527.9,716.9 527.6,718.4 527.1,719.7 526.4,720.7 525.5,721.5 524.6,722.0" stroke-width="2.2" fill="none" />
<polyline points="527.5,693.6 528.6,693.4 529.7,693.6 530.9,694.0 532.1,694.7 533.3,695.7 534.4,697.0 535.5,698.5 536.5,700.1 537.3,701.9 538.0,703.8 538.6,705.8 539.0,707.8 539.2,709.7 539.2,711.5 539.0,713.2 538.7,714.7 538.2,716.0 537.5,717.0 536.6,717.8 535.7,718.3" stroke-width="2.2" fill="none" />
</g>
<polygon points="479.4,713.7 479.7,713.7 480.0,713.6 480.3,713.6 480.7,713.7 481.0,713.7 481.3,713.8 481.7,714.0 482.0,714.2 482.4,714.4 482.7,714.6 483.0,714.9 483.4,715.2 483.7,715.6 484.0,715.9 484.4,716.3 484.7,716.7 485.0,717.2 485.3,717.7 485.5,718.2 485.8,718.7 486.0,719.2 486.3,719.7 486.5,720.3 486.7,720.8 486.9,721.4 487.0,721.9 487.2,722.5 487.3,723.1 487.4,723.6 487.4,724.2 487.5,724.8 487.5,725.3 487.5,725.8 487.5,726.3 487.4,726.8 487.4,727.3 487.3,727.7 487.2,728.2 487.1,728.6 486.9,729.0 486.7,729.3 486.6,729.6 486.3,729.9 486.1,730.2 485.9,730.4 485.6,730.6 485.4,730.7 485.1,730.8 470.8,735.5 470.5,735.6 470.2,735.7 469.9,735.7 469.6,735.6 469.2,735.6 468.9,735.5 468.6,735.3 468.2,735.1 467.9,734.9 467.5,734.7 467.2,734.4 466.9,734.1 466.5,733.7 466.2,733.4 465.9,733.0 465.6,732.5 465.3,732.1 465.0,731.6 464.7,731.1 464.4,730.6 464.2,730.1 464.0,729.6 463.8,729.0 463.6,728.5 463.4,727.9 463.2,727.3 463.1,726.8 463.0,726.2 462.9,725.6 462.8,725.1 462.8,724.5 462.7,724.0 462.7,723.5 462.8,723.0 462.8,722.5 462.9,722.0 462.9,721.5 463.1,721.1 463.2,720.7 463.3,720.3 463.5,720.0 463.7,719.7 463.9,719.4 464.1,719.1 464.4,718.9 464.6,718.7 464.9,718.6 465.2,718.5" stroke-width="1.6" fill="#fff" stroke-linejoin="round" />
<ellipse cx="468.0" cy="727.0" rx="4.7" ry="9.0" transform="rotate(-18.3 468.0 727.0)" stroke-width="1.6" fill="#fff" />
<ellipse cx="468.0" cy="727.0" rx="4.7" ry="9.0" transform="rotate(-18.3 468.0 727.0)" stroke-width="1.6" fill="#fff" />
<ellipse cx="468.0" cy="727.0" rx="2.2" ry="3.5" transform="rotate(-18.3 468.0 727.0)" stroke-width="1.4" fill="none" />
<polyline points="576.4,679.0 577.6,678.9 578.9,679.1 580.2,679.8 581.5,680.9 582.7,682.3 583.9,684.0 584.9,686.0 585.7,688.1 586.3,690.2 586.7,692.4 586.8,694.5 586.6,696.3 586.2,698.0 585.5,699.3 584.7,700.3 583.6,700.9" stroke-width="1.4" fill="none" />
<polyline points="583.1,676.8 584.2,676.7 585.5,676.9 586.8,677.6 588.1,678.7 589.4,680.1 590.5,681.8 591.5,683.8 592.4,685.9 593.0,688.0 593.3,690.2 593.4,692.3 593.2,694.1 592.8,695.8 592.2,697.1 591.3,698.1 590.3,698.7" stroke-width="1.4" fill="none" stroke="#fff"/>
<polyline points="606.8,669.0 608.0,668.8 609.3,669.1 610.6,669.8 611.9,670.9 613.1,672.3 614.3,674.0 615.3,675.9 616.1,678.0 616.7,680.2 617.0,682.3 617.1,684.4 617.0,686.3 616.6,687.9 615.9,689.3 615.1,690.2 614.0,690.8" stroke-width="1.4" fill="none" />
<polyline points="616.3,665.8 617.5,665.7 618.7,666.0 620.1,666.6 621.4,667.7 622.6,669.1 623.8,670.8 624.8,672.8 625.6,674.9 626.2,677.0 626.5,679.2 626.6,681.3 626.5,683.2 626.1,684.8 625.4,686.1 624.6,687.1 623.5,687.7" stroke-width="1.4" fill="none" stroke="#fff"/>
<polygon points="361.1,724.1 362.0,723.9 362.9,723.9 363.9,723.9 364.9,724.1 365.9,724.4 366.9,724.8 367.9,725.4 368.9,726.0 369.9,726.8 371.0,727.6 372.0,728.6 373.0,729.7 374.0,730.9 374.9,732.1 375.8,733.5 376.8,734.9 377.6,736.4 378.5,737.9 379.3,739.6 380.0,741.2 380.7,743.0 381.4,744.7 382.0,746.5 382.5,748.3 383.0,750.2 383.4,752.0 383.8,753.9 384.1,755.7 384.3,757.5 384.5,759.3 384.6,761.1 384.7,762.8 384.6,764.5 384.5,766.1 384.4,767.6 384.1,769.1 383.8,770.6 383.5,771.9 383.1,773.2 382.6,774.3 382.1,775.4 381.5,776.4 380.8,777.2 380.1,778.0 379.4,778.7 378.6,779.2 377.8,779.6 376.9,779.9 352.9,786.4 352.0,786.6 351.1,786.6 350.1,786.6 349.1,786.4 348.1,786.1 347.1,785.7 346.1,785.1 345.1,784.5 344.1,783.7 343.0,782.9 342.0,781.9 341.0,780.8 340.0,779.6 339.1,778.4 338.2,777.0 337.2,775.6 336.4,774.1 335.5,772.6 334.7,770.9 334.0,769.3 333.3,767.5 332.6,765.8 332.0,764.0 331.5,762.2 331.0,760.3 330.6,758.5 330.2,756.6 329.9,754.8 329.7,753.0 329.5,751.2 329.4,749.4 329.3,747.7 329.4,746.0 329.5,744.4 329.6,742.9 329.9,741.4 330.2,739.9 330.5,738.6 330.9,737.3 331.4,736.2 331.9,735.1 332.5,734.1 333.2,733.3 333.9,732.5 334.6,731.8 335.4,731.3 336.2,730.9 337.1,730.6" stroke-width="1.7" fill="#fff" stroke-linejoin="round" />
<ellipse cx="345.0" cy="758.5" rx="14.0" ry="29.0" transform="rotate(-16 345.0 758.5)" stroke-width="1.7" fill="#fff" />
<polygon points="337.1,730.6 337.6,730.5 338.0,730.4 338.5,730.4 362.5,723.9 362.0,723.9 361.6,724.0 361.1,724.1" fill="#000" stroke="none"/>
<polygon points="340.3,730.5 340.8,730.6 341.3,730.7 341.8,730.9 365.8,724.4 365.3,724.2 364.8,724.1 364.3,724.0" fill="#000" stroke="none"/>
<polygon points="343.7,731.8 344.3,732.1 344.8,732.4 345.3,732.8 369.3,726.3 368.8,725.9 368.3,725.6 367.7,725.3" fill="#000" stroke="none"/>
<polygon points="347.3,734.4 347.8,734.9 348.3,735.4 348.8,736.0 372.8,729.5 372.3,728.9 371.8,728.4 371.3,727.9" fill="#000" stroke="none"/>
<polygon points="350.6,738.2 351.1,738.9 351.6,739.6 352.1,740.3 376.1,733.8 375.6,733.1 375.1,732.4 374.6,731.7" fill="#000" stroke="none"/>
<polygon points="353.7,743.1 354.2,743.9 354.6,744.7 355.0,745.5 379.0,739.0 378.6,738.2 378.2,737.4 377.7,736.6" fill="#000" stroke="none"/>
<polygon points="356.4,748.7 356.8,749.6 357.1,750.5 357.4,751.4 381.4,744.9 381.1,744.0 380.8,743.1 380.4,742.2" fill="#000" stroke="none"/>
<polygon points="358.5,754.8 358.8,755.8 359.0,756.7 359.2,757.7 383.2,751.2 383.0,750.2 382.8,749.3 382.5,748.3" fill="#000" stroke="none"/>
<polygon points="359.9,761.1 360.1,762.1 360.2,763.0 360.3,764.0 384.3,757.5 384.2,756.5 384.1,755.6 383.9,754.6" fill="#000" stroke="none"/>
<polygon points="360.6,767.3 360.6,768.2 360.7,769.1 360.6,770.0 384.6,763.5 384.7,762.6 384.6,761.7 384.6,760.8" fill="#000" stroke="none"/>
<polygon points="360.5,773.0 360.4,773.8 360.3,774.6 360.2,775.4 384.2,768.9 384.3,768.1 384.4,767.3 384.5,766.5" fill="#000" stroke="none"/>
<polygon points="359.6,778.0 359.4,778.7 359.2,779.4 359.0,780.0 383.0,773.5 383.2,772.9 383.4,772.2 383.6,771.5" fill="#000" stroke="none"/>
<polygon points="358.0,782.1 357.7,782.6 357.4,783.0 357.0,783.5 381.0,777.0 381.4,776.5 381.7,776.1 382.0,775.6" fill="#000" stroke="none"/>
<polygon points="355.7,784.9 355.3,785.2 354.9,785.5 354.5,785.7 378.5,779.2 378.9,779.0 379.3,778.7 379.7,778.4" fill="#000" stroke="none"/>
<polyline points="356.3,725.3 357.0,724.6 358.3,725.6 359.0,725.1 359.1,723.0 359.9,722.6 361.2,724.1 362.0,723.9 362.4,722.1 363.3,722.1 364.5,724.0 365.3,724.2 366.0,722.8 367.0,723.2 368.0,725.4 368.9,726.0 369.8,725.1 370.8,725.8 371.5,728.2 372.4,729.1 373.6,728.7 374.5,729.8 375.0,732.2 375.8,733.4 377.1,733.5 377.9,734.9 378.1,737.2 378.8,738.6 380.1,739.3 380.8,740.9 380.8,743.1 381.3,744.6 382.7,745.8 383.2,747.5 382.8,749.3 383.2,750.9 384.4,752.6 384.8,754.3 384.1,755.8 384.3,757.3 385.4,759.3 385.6,761.0 384.6,762.0 384.6,763.5 385.6,765.7 385.5,767.2 384.4,767.7 384.2,769.0 384.8,771.4 384.5,772.6 383.3,772.6 382.9,773.6 383.3,776.0 382.8,777.0 381.5,776.4 380.9,777.1 381.0,779.4" stroke-width="1.5" fill="none" />
<polygon points="359.3,754.4 359.8,756.2 359.3,758.0 359.7,759.7 360.9,761.6 361.2,763.4 360.4,764.8 360.6,766.4 361.6,768.6 361.6,770.3 360.6,771.2 360.5,772.7 361.3,775.1 361.1,776.5 359.9,776.8 359.6,778.1 360.1,780.5 359.7,781.7 358.3,781.4 357.8,782.3 358.0,784.7 357.4,785.5 356.0,784.6 355.3,785.2 355.2,787.4 354.3,787.8 353.0,786.4 352.2,786.6 351.7,788.4 350.8,788.4 349.5,786.5 348.6,786.3 347.9,787.6 346.9,787.2 345.8,785.0 344.9,784.4 343.9,785.2 342.9,784.3 342.1,781.9 341.1,780.9 339.9,781.2 339.0,780.0 338.5,777.5 337.6,776.2 336.3,775.9 335.5,774.4 335.3,772.0 334.5,770.5 333.2,769.6 332.5,767.9 332.6,765.7 332.0,764.0 330.7,762.6 330.2,760.8 330.7,759.0 330.3,757.3 329.1,755.4 328.8,753.6 329.6,752.2 329.4,750.6 328.4,748.4 328.4,746.7 329.4,745.8 329.5,744.3 328.7,741.9 328.9,740.5 330.1,740.2 330.4,738.9 329.9,736.5 330.3,735.3 331.7,735.6 332.2,734.7 332.0,732.3 332.6,731.5 334.0,732.4 334.7,731.8 334.8,729.6 335.7,729.2 337.0,730.6 337.8,730.4 338.3,728.6 339.2,728.6 340.5,730.5 341.4,730.7 342.1,729.4 343.1,729.8 344.2,732.0 345.1,732.6 346.1,731.8 347.1,732.7 347.9,735.1 348.9,736.1 350.1,735.8 351.0,737.0 351.5,739.5 352.4,740.8 353.7,741.1 354.5,742.6 354.7,745.0 355.5,746.5 356.8,747.4 357.5,749.1 357.4,751.3 358.0,753.0 359.3,754.4" fill="#fff" stroke-width="1.4" stroke-linejoin="round"/>
<polygon points="335.4,733.1 336.3,732.9 337.1,732.8 338.0,732.8 338.9,732.9 339.8,733.1 340.7,733.5 341.7,733.9 342.6,734.5 343.6,735.1 344.5,735.8 345.5,736.7 346.4,737.6 347.3,738.7 348.2,739.8 349.1,741.0 349.9,742.2 350.7,743.6 351.5,745.0 352.3,746.4 353.0,748.0 353.6,749.5 354.2,751.1 354.8,752.7 355.3,754.4 355.8,756.1 356.2,757.7 356.6,759.4 356.9,761.1 357.1,762.8 357.3,764.4 357.4,766.0 357.5,767.6 357.5,769.2 357.4,770.7 357.3,772.1 357.1,773.5 356.8,774.9 356.5,776.1 356.1,777.3 355.7,778.4 355.2,779.5 354.7,780.4 354.1,781.2 353.5,782.0 352.8,782.6 352.1,783.1 351.4,783.6 350.6,783.9 344.6,785.9 343.7,786.1 342.9,786.2 342.0,786.2 341.1,786.1 340.2,785.9 339.3,785.5 338.3,785.1 337.4,784.5 336.4,783.9 335.5,783.2 334.5,782.3 333.6,781.4 332.7,780.3 331.8,779.2 330.9,778.0 330.1,776.8 329.3,775.4 328.5,774.0 327.7,772.6 327.0,771.0 326.4,769.5 325.8,767.9 325.2,766.3 324.7,764.6 324.2,762.9 323.8,761.3 323.4,759.6 323.1,757.9 322.9,756.2 322.7,754.6 322.6,753.0 322.5,751.4 322.5,749.8 322.6,748.3 322.7,746.9 322.9,745.5 323.2,744.1 323.5,742.9 323.9,741.7 324.3,740.6 324.8,739.5 325.3,738.6 325.9,737.8 326.5,737.0 327.2,736.4 327.9,735.9 328.6,735.4 329.4,735.1" stroke-width="1.8" fill="#fff" stroke-linejoin="round" />
<ellipse cx="337.0" cy="760.5" rx="13.0" ry="26.5" transform="rotate(-16 337.0 760.5)" stroke-width="1.8" fill="#fff" />
<ellipse cx="338.5" cy="760.0" rx="9.5" ry="20.5" transform="rotate(-16 338.5 760.0)" stroke-width="1.0" fill="none" />
<path d="M333,741 q8,4 10,14" stroke-width="1.3" fill="none" />
<line x1="314.2" y1="768.8" x2="344.8" y2="757.5" stroke-width="1.3" />
<path d="M387.9,715.2 C389.5,713.1 392.9,711.7 395.2,710.5 C397.5,709.4 398.6,708.6 401.8,708.2 C404.9,707.9 410.9,707.0 414.3,708.2 C417.7,709.5 419.6,712.9 422.2,715.8 C424.8,718.7 427.5,722.5 430.1,725.7 C432.7,728.9 439.1,732.1 438.0,734.9 C436.9,737.8 427.0,742.8 423.5,742.8 C420.0,742.8 419.0,737.5 416.9,734.9 C414.8,732.4 413.2,729.8 411.0,727.7 C408.8,725.6 404.7,721.5 403.7,722.4 C402.7,723.3 404.1,729.2 405.0,733.0 C406.0,736.7 407.7,741.2 409.7,744.8 C411.6,748.5 414.6,752.1 416.9,754.7 C419.2,757.4 421.5,758.8 423.5,760.6 C425.5,762.5 428.3,764.4 428.8,765.9 C429.2,767.5 429.2,768.3 426.1,769.9 C423.1,771.4 414.4,776.6 410.3,775.1 C406.3,773.7 404.6,765.7 401.8,761.3 C398.9,756.9 395.7,753.3 393.2,748.8 C390.7,744.3 387.9,738.6 386.6,734.3 C385.3,730.0 385.4,726.3 385.6,723.1 C385.8,719.9 386.3,717.2 387.9,715.2 Z" stroke-width="1.2" fill="#000" stroke-linejoin="round" />
<ellipse cx="389.2" cy="719.8" rx="1.0" ry="1.2" transform="rotate(0 389.2 719.8)" stroke-width="0" fill="#fff" stroke="none"/>
<ellipse cx="387.9" cy="726.4" rx="1.0" ry="1.2" transform="rotate(0 387.9 726.4)" stroke-width="0" fill="#fff" stroke="none"/>
<ellipse cx="388.6" cy="733.0" rx="1.0" ry="1.2" transform="rotate(0 388.6 733.0)" stroke-width="0" fill="#fff" stroke="none"/>
<ellipse cx="390.5" cy="740.9" rx="1.0" ry="1.2" transform="rotate(0 390.5 740.9)" stroke-width="0" fill="#fff" stroke="none"/>
<ellipse cx="392.5" cy="746.1" rx="1.0" ry="1.2" transform="rotate(0 392.5 746.1)" stroke-width="0" fill="#fff" stroke="none"/>
<ellipse cx="398.5" cy="756.0" rx="1.0" ry="1.2" transform="rotate(0 398.5 756.0)" stroke-width="0" fill="#fff" stroke="none"/>
<ellipse cx="405.7" cy="765.3" rx="1.0" ry="1.2" transform="rotate(0 405.7 765.3)" stroke-width="0" fill="#fff" stroke="none"/>
<ellipse cx="391.9" cy="714.5" rx="1.0" ry="1.2" transform="rotate(0 391.9 714.5)" stroke-width="0" fill="#fff" stroke="none"/>
<ellipse cx="396.5" cy="713.2" rx="1.0" ry="1.2" transform="rotate(0 396.5 713.2)" stroke-width="0" fill="#fff" stroke="none"/>
<ellipse cx="406.4" cy="719.1" rx="1.0" ry="1.2" transform="rotate(0 406.4 719.1)" stroke-width="0" fill="#fff" stroke="none"/>
<ellipse cx="413.6" cy="729.0" rx="1.0" ry="1.2" transform="rotate(0 413.6 729.0)" stroke-width="0" fill="#fff" stroke="none"/>
<ellipse cx="419.6" cy="736.9" rx="1.0" ry="1.2" transform="rotate(0 419.6 736.9)" stroke-width="0" fill="#fff" stroke="none"/>
<ellipse cx="419.6" cy="759.3" rx="1.0" ry="1.2" transform="rotate(0 419.6 759.3)" stroke-width="0" fill="#fff" stroke="none"/>
<polygon points="321.6,981.5 322.5,981.2 323.4,981.1 324.4,981.0 325.3,981.1 326.3,981.3 327.3,981.5 328.3,981.9 329.3,982.3 330.3,982.9 331.3,983.5 332.3,984.2 333.3,985.0 334.2,985.9 335.1,986.9 336.0,988.0 336.9,989.1 337.7,990.3 338.5,991.5 339.2,992.9 339.9,994.2 340.6,995.6 341.2,997.1 341.7,998.5 342.2,1000.0 342.6,1001.5 343.0,1003.1 343.3,1004.6 343.5,1006.1 343.7,1007.7 343.8,1009.2 343.8,1010.7 343.8,1012.1 343.7,1013.6 343.6,1015.0 343.4,1016.3 343.1,1017.6 342.7,1018.9 342.3,1020.0 341.9,1021.2 341.3,1022.2 340.8,1023.2 340.1,1024.1 339.5,1024.9 338.7,1025.6 338.0,1026.2 337.2,1026.8 336.3,1027.2 335.4,1027.5 329.9,1029.3 329.0,1029.6 328.1,1029.7 327.1,1029.8 326.2,1029.7 325.2,1029.5 324.2,1029.3 323.2,1028.9 322.2,1028.5 321.2,1027.9 320.2,1027.3 319.2,1026.6 318.2,1025.8 317.3,1024.9 316.4,1023.9 315.5,1022.8 314.6,1021.7 313.8,1020.5 313.0,1019.3 312.3,1017.9 311.6,1016.6 310.9,1015.2 310.3,1013.7 309.8,1012.3 309.3,1010.8 308.9,1009.3 308.5,1007.7 308.2,1006.2 308.0,1004.7 307.8,1003.1 307.7,1001.6 307.7,1000.1 307.7,998.7 307.8,997.2 307.9,995.8 308.1,994.5 308.4,993.2 308.8,991.9 309.2,990.8 309.6,989.6 310.2,988.6 310.7,987.6 311.4,986.7 312.0,985.9 312.8,985.2 313.5,984.6 314.3,984.0 315.2,983.6 316.1,983.3" stroke-width="1.8" fill="#fff" stroke-linejoin="round" />
<ellipse cx="323.0" cy="1006.3" rx="14.4" ry="24.1" transform="rotate(-16 323.0 1006.3)" stroke-width="1.8" fill="#fff" />
<ellipse cx="324.2" cy="1005.8" rx="14.4" ry="24.1" transform="rotate(-16 324.2 1005.8)" stroke-width="0.9" fill="none" />
<ellipse cx="323.4" cy="1006.2" rx="8.6" ry="17.0" transform="rotate(-16 323.4 1006.2)" stroke-width="1.6" fill="none" />
<path d="M326.5,993 q7,10 3.5,25" stroke-width="3.0" fill="none" />
<ellipse cx="366.4" cy="988.8" rx="12.0" ry="19.7" transform="rotate(-14 366.4 988.8)" stroke-width="1.7" fill="none" />
<ellipse cx="366.4" cy="988.8" rx="9.7" ry="17.4" transform="rotate(-14 366.4 988.8)" stroke-width="1.5" fill="none" />
<polygon points="363,968 370,969 370,975 363,974" fill="#fff" stroke="none"/>
<line x1="364.0" y1="969.5" x2="364.5" y2="972.5" stroke-width="1.3" />
<line x1="369.0" y1="971.0" x2="368.5" y2="974.5" stroke-width="1.3" />
<polygon points="406.5,956.4 407.2,956.2 407.9,956.1 408.6,956.1 409.3,956.2 410.0,956.3 410.7,956.5 411.4,956.8 412.2,957.1 412.9,957.5 413.6,958.0 414.3,958.6 415.1,959.2 415.7,959.9 416.4,960.6 417.1,961.4 417.7,962.3 418.3,963.2 418.9,964.2 419.5,965.2 420.0,966.2 420.5,967.3 420.9,968.4 421.3,969.5 421.7,970.6 422.0,971.8 422.3,972.9 422.5,974.1 422.7,975.2 422.9,976.4 422.9,977.6 423.0,978.7 423.0,979.8 422.9,980.9 422.9,981.9 422.7,983.0 422.5,983.9 422.3,984.9 422.0,985.8 421.7,986.6 421.3,987.4 420.9,988.1 420.5,988.8 420.0,989.4 419.5,989.9 418.9,990.4 418.3,990.8 417.7,991.1 417.1,991.4 408.1,994.4 407.4,994.6 406.7,994.7 406.0,994.7 405.3,994.6 404.6,994.5 403.9,994.3 403.2,994.0 402.4,993.7 401.7,993.3 401.0,992.8 400.3,992.2 399.5,991.6 398.9,990.9 398.2,990.2 397.5,989.4 396.9,988.5 396.3,987.6 395.7,986.6 395.1,985.6 394.6,984.6 394.1,983.5 393.7,982.4 393.3,981.3 392.9,980.2 392.6,979.0 392.3,977.9 392.1,976.7 391.9,975.6 391.7,974.4 391.7,973.2 391.6,972.1 391.6,971.0 391.7,969.9 391.7,968.9 391.9,967.8 392.1,966.9 392.3,965.9 392.6,965.0 392.9,964.2 393.3,963.4 393.7,962.7 394.1,962.0 394.6,961.4 395.1,960.9 395.7,960.4 396.3,960.0 396.9,959.7 397.5,959.4" stroke-width="1.7" fill="#fff" stroke-linejoin="round" />
<ellipse cx="402.8" cy="976.9" rx="10.4" ry="18.3" transform="rotate(-16 402.8 976.9)" stroke-width="1.7" fill="#fff" />
<ellipse cx="403.0" cy="977.5" rx="7.4" ry="14.1" transform="rotate(-16 403.0 977.5)" stroke-width="1.4" fill="none" />
<ellipse cx="403.5" cy="977.5" rx="4.4" ry="10.6" transform="rotate(-16 403.5 977.5)" stroke-width="1.4" fill="none" />
<ellipse cx="404.0" cy="977.5" rx="2.4" ry="7.6" transform="rotate(-16 404.0 977.5)" stroke-width="1.1" fill="none" />
<path d="M250.8,1020.2 C250.9,1016.2 254.5,1018.1 256.4,1018.6 C258.3,1019.1 260.5,1020.5 262.0,1023.4 C263.5,1026.3 265.5,1032.9 265.6,1036.2 C265.7,1039.5 263.8,1041.9 262.8,1043.4 C261.8,1044.9 260.8,1045.1 259.6,1045.0 C258.4,1044.9 257.1,1046.7 255.6,1042.6 C254.1,1038.5 250.7,1024.2 250.8,1020.2 Z" stroke-width="1.7" fill="#fff" stroke-linejoin="round" />
<path d="M220.4,1016.6 C220.7,1015.3 226.0,1014.9 229.2,1014.2 C232.4,1013.5 236.8,1012.5 239.6,1012.6 C242.4,1012.7 243.9,1013.2 246.0,1014.6 C248.1,1016.0 250.4,1017.3 252.4,1021.0 C254.4,1024.7 256.9,1031.7 258.0,1037.0 C259.1,1042.3 259.2,1049.0 258.8,1053.0 C258.4,1057.0 257.7,1058.9 255.6,1061.0 C253.5,1063.1 249.5,1064.1 246.0,1065.8 C242.5,1067.5 236.5,1073.5 234.8,1071.4 C233.1,1069.3 235.6,1059.1 235.6,1053.0 C235.6,1046.9 236.1,1039.8 234.8,1034.6 C233.5,1029.4 230.0,1024.8 227.6,1021.8 C225.2,1018.8 220.1,1017.9 220.4,1016.6 Z" stroke-width="1.7" fill="#fff" stroke-linejoin="round" />
<path d="M228.4,1015.4 C230.0,1017.5 235.1,1023.3 238.0,1028.2 C240.9,1033.1 244.4,1039.5 246.0,1045.0 C247.6,1050.5 247.3,1058.3 247.6,1061.0" stroke-width="1.4" fill="none" stroke-linejoin="round" />
<path d="M233.6,1016.2 C235.4,1018.2 241.5,1023.4 244.4,1028.2 C247.3,1033.0 249.6,1040.1 250.8,1045.0 C252.0,1049.9 251.5,1055.7 251.6,1057.8" stroke-width="1.0" fill="none" stroke-linejoin="round" />
<path d="M196.4,1019.4 C198.3,1016.5 206.3,1014.6 209.2,1013.8 C212.1,1013.0 212.1,1014.1 214.0,1014.6 C215.9,1015.1 218.1,1015.8 220.4,1017.0 C222.7,1018.2 225.2,1018.9 227.6,1021.8 C230.0,1024.7 233.2,1029.4 234.8,1034.6 C236.4,1039.8 237.1,1047.5 237.2,1053.0 C237.3,1058.5 236.5,1063.4 235.6,1067.4 C234.7,1071.4 234.1,1074.5 231.6,1077.0 C229.1,1079.5 223.5,1082.1 220.4,1082.6 C217.3,1083.1 214.7,1081.5 213.2,1080.2 C211.7,1078.9 212.7,1076.5 211.6,1074.6 C210.5,1072.7 208.1,1069.3 206.8,1069.0 C205.5,1068.7 205.1,1072.3 203.6,1072.6 C202.1,1072.9 199.1,1072.9 198.0,1070.6 C196.9,1068.3 196.1,1061.0 196.8,1058.6 C197.5,1056.2 200.1,1057.4 202.0,1056.2 C203.9,1055.0 207.1,1053.7 208.4,1051.4 C209.7,1049.1 210.0,1045.0 210.0,1042.6 C210.0,1040.2 209.6,1038.3 208.4,1037.0 C207.2,1035.7 204.5,1035.9 202.8,1035.0 C201.1,1034.1 199.1,1034.0 198.0,1031.4 C196.9,1028.8 194.5,1022.3 196.4,1019.4 Z" stroke-width="1.7" fill="#fff" stroke-linejoin="round" />
<path d="M202.0,1018.2 C202.5,1018.5 204.5,1017.3 205.2,1019.8 C205.9,1022.3 206.4,1030.5 206.0,1033.0 C205.6,1035.5 203.3,1034.7 202.8,1035.0" stroke-width="1.4" fill="none" stroke-linejoin="round" />
<path d="M206.0,1022.6 C207.2,1022.3 211.2,1020.3 213.2,1020.6 C215.2,1020.9 217.9,1023.2 218.0,1024.2 C218.1,1025.2 215.9,1026.2 214.0,1026.6 C212.1,1027.0 208.0,1026.6 206.8,1026.6" stroke-width="1.3" fill="none" stroke-linejoin="round" />
<path d="M211.6,1030.6 C212.0,1030.3 212.8,1028.9 214.0,1029.0 C215.2,1029.1 217.7,1029.5 218.8,1031.4 C219.9,1033.3 220.7,1038.3 220.4,1040.2 C220.1,1042.1 218.5,1043.0 217.2,1043.0 C215.9,1043.0 213.3,1042.3 212.4,1040.2 C211.5,1038.1 211.7,1032.2 211.6,1030.6" stroke-width="1.5" fill="#fff" stroke-linejoin="round" />
<path d="M216.4,1042.6 C217.9,1043.0 223.2,1043.3 225.2,1045.0 C227.2,1046.7 228.4,1050.3 228.4,1053.0 C228.4,1055.7 226.9,1059.1 225.2,1061.0 C223.5,1062.9 219.2,1063.7 218.0,1064.2" stroke-width="1.8" fill="none" stroke-linejoin="round" />
<path d="M202.0,1057.0 C202.7,1057.5 205.2,1058.2 206.0,1060.2 C206.8,1062.2 207.2,1066.9 206.8,1069.0 C206.4,1071.1 204.1,1072.0 203.6,1072.6" stroke-width="1.4" fill="none" stroke-linejoin="round" />
<path d="M211.6,1070.6 C212.0,1070.2 212.8,1068.5 214.0,1068.2 C215.2,1067.9 217.6,1067.5 218.8,1069.0 C220.0,1070.5 221.2,1074.9 221.2,1077.0 C221.2,1079.1 220.1,1081.3 218.8,1081.8 C217.5,1082.3 214.4,1082.1 213.2,1080.2 C212.0,1078.3 211.9,1072.2 211.6,1070.6" stroke-width="1.5" fill="#fff" stroke-linejoin="round" />
<path d="M220.4,1031.4 L230.0,1028.2" stroke-width="1.2" fill="none" stroke-linejoin="round" />
<path d="M206.8,1061.0 C207.9,1060.9 211.5,1059.7 213.2,1060.2 C214.9,1060.7 216.5,1063.5 217.2,1064.2" stroke-width="1.2" fill="none" stroke-linejoin="round" />
<ellipse cx="201.2" cy="1027.8" rx="1.8" ry="2.4" transform="rotate(-10 201.2 1027.8)" stroke-width="0.8" fill="#000" />
<ellipse cx="215.2" cy="1037.8" rx="1.8" ry="2.4" transform="rotate(-10 215.2 1037.8)" stroke-width="0.8" fill="#000" />
<ellipse cx="201.6" cy="1064.2" rx="1.8" ry="2.4" transform="rotate(-10 201.6 1064.2)" stroke-width="0.8" fill="#000" />
<ellipse cx="216.0" cy="1073.8" rx="1.8" ry="2.4" transform="rotate(-10 216.0 1073.8)" stroke-width="0.8" fill="#000" />
<polygon points="148.6,1058.9 150.9,1054.4 156.7,1051.7 160.8,1048.6 165.3,1050.4 170.2,1058.0 171.6,1065.2 169.3,1071.5 163.0,1073.8 158.5,1074.7 152.7,1070.6 149.1,1065.2" fill="#fff" stroke-width="1.9" stroke-linejoin="round"/>
<polyline points="156.7,1051.7 159.0,1053.5 163.9,1054.9 166.2,1058.9 165.3,1066.1 163.0,1073.8" stroke-width="1.1" fill="none" />
<polyline points="159.0,1053.5 158.5,1057.1" stroke-width="1.0" fill="none" />
<polyline points="165.3,1066.1 159.9,1066.6" stroke-width="1.0" fill="none" />
<ellipse cx="153.6" cy="1063.9" rx="5.2" ry="7.2" transform="rotate(-10 153.6 1063.9)" stroke-width="2.8" fill="#fff" />
<ellipse cx="153.1" cy="1064.4" rx="2.2" ry="3.0" transform="rotate(-10 153.1 1064.4)" stroke-width="1.2" fill="#000" />
<ellipse cx="178.0" cy="1056.5" rx="4.8" ry="7.6" transform="rotate(-15 178.0 1056.5)" stroke-width="2.2" fill="#fff" />
<path d="M174.5,1054 l2.5,6 l1.5,-7 l2,6.5 l1.5,-5" stroke-width="1.3" fill="none" />
<path d="M176,1048.5 l1,-2.5 M179.5,1048 l0.5,-2.5" stroke-width="1.4" fill="none" />
<polygon points="497.6,919.2 498.4,919.0 499.2,918.9 500.1,918.9 501.0,919.0 501.8,919.2 502.7,919.5 503.7,919.8 504.6,920.3 505.5,920.9 506.4,921.6 507.3,922.3 508.2,923.2 509.1,924.1 510.0,925.1 510.8,926.2 511.6,927.3 512.4,928.5 513.2,929.8 513.9,931.1 514.6,932.4 515.2,933.8 515.8,935.3 516.4,936.7 516.9,938.2 517.4,939.7 517.8,941.2 518.1,942.7 518.4,944.2 518.7,945.8 518.8,947.2 518.9,948.7 519.0,950.1 519.0,951.5 518.9,952.9 518.8,954.2 518.6,955.5 518.4,956.7 518.1,957.8 517.8,958.9 517.3,959.9 516.9,960.8 516.4,961.6 515.8,962.4 515.2,963.1 514.6,963.7 513.9,964.1 513.1,964.5 512.4,964.8 490.4,971.8 489.6,972.0 488.8,972.1 487.9,972.1 487.0,972.0 486.2,971.8 485.3,971.5 484.3,971.2 483.4,970.7 482.5,970.1 481.6,969.4 480.7,968.7 479.8,967.8 478.9,966.9 478.0,965.9 477.2,964.8 476.4,963.7 475.6,962.5 474.8,961.2 474.1,959.9 473.4,958.6 472.8,957.2 472.2,955.7 471.6,954.3 471.1,952.8 470.6,951.3 470.2,949.8 469.9,948.3 469.6,946.8 469.3,945.2 469.2,943.8 469.1,942.3 469.0,940.9 469.0,939.5 469.1,938.1 469.2,936.8 469.4,935.5 469.6,934.3 469.9,933.2 470.2,932.1 470.7,931.1 471.1,930.2 471.6,929.4 472.2,928.6 472.8,927.9 473.4,927.3 474.1,926.9 474.9,926.5 475.6,926.2" stroke-width="1.8" fill="#fff" stroke-linejoin="round" />
<ellipse cx="483.0" cy="949.0" rx="12.5" ry="24.0" transform="rotate(-18 483.0 949.0)" stroke-width="1.8" fill="#fff" />
<polygon points="475.6,926.2 476.0,926.0 476.4,926.0 476.9,925.9 498.9,918.9 498.4,919.0 498.0,919.0 497.6,919.2" fill="#000" stroke="none"/>
<polygon points="479.7,926.1 480.1,926.2 480.6,926.4 481.0,926.6 503.0,919.6 502.6,919.4 502.1,919.2 501.7,919.1" fill="#000" stroke="none"/>
<polygon points="484.0,928.3 484.5,928.7 485.0,929.0 485.4,929.4 507.4,922.4 507.0,922.0 506.5,921.7 506.0,921.3" fill="#000" stroke="none"/>
<polygon points="488.3,932.5 488.7,933.1 489.2,933.6 489.6,934.2 511.6,927.2 511.2,926.6 510.7,926.1 510.3,925.5" fill="#000" stroke="none"/>
<polygon points="492.0,938.3 492.4,939.0 492.7,939.7 493.1,940.5 515.1,933.5 514.7,932.7 514.4,932.0 514.0,931.3" fill="#000" stroke="none"/>
<polygon points="494.9,945.2 495.2,946.0 495.4,946.7 495.6,947.5 517.6,940.5 517.4,939.7 517.2,939.0 516.9,938.2" fill="#000" stroke="none"/>
<polygon points="496.6,952.5 496.7,953.2 496.8,954.0 496.9,954.7 518.9,947.7 518.8,947.0 518.7,946.2 518.6,945.5" fill="#000" stroke="none"/>
<polygon points="497.0,959.4 496.9,960.0 496.9,960.7 496.8,961.4 518.8,954.4 518.9,953.7 518.9,953.0 519.0,952.4" fill="#000" stroke="none"/>
<polygon points="496.0,965.2 495.8,965.8 495.6,966.3 495.4,966.8 517.4,959.8 517.6,959.3 517.8,958.8 518.0,958.2" fill="#000" stroke="none"/>
<polygon points="493.7,969.5 493.4,969.9 493.1,970.2 492.7,970.5 514.7,963.5 515.1,963.2 515.4,962.9 515.7,962.5" fill="#000" stroke="none"/>
<polyline points="493.3,920.1 494.1,919.2 495.7,920.2 496.6,919.6 496.9,917.5 498.0,917.2 499.5,918.9 500.5,918.9 501.3,917.4 502.5,917.7 503.8,919.9 504.9,920.5 506.1,919.7 507.3,920.7 508.2,923.2 509.3,924.3 510.8,924.4 511.9,925.8 512.4,928.4 513.3,929.9 514.9,930.8 515.7,932.6 515.7,935.0 516.4,936.8 517.9,938.3 518.5,940.3 518.0,942.3 518.4,944.1 519.7,946.3 519.9,948.2 519.0,949.6 519.0,951.3 520.0,953.8 519.8,955.5 518.5,956.1 518.2,957.5 518.7,960.1 518.2,961.4 516.7,961.1 516.1,962.1 516.1,964.5" stroke-width="1.5" fill="none" />
<polygon points="495.9,944.8 496.4,946.4 495.8,948.1 496.1,949.7 497.5,951.4 497.8,953.0 496.8,954.2 496.9,955.6 498.2,957.7 498.2,959.3 496.9,959.8 496.8,961.1 497.8,963.5 497.5,964.8 496.1,964.8 495.8,965.8 496.4,968.3 495.9,969.3 494.4,968.6 493.8,969.4 494.1,971.8 493.4,972.4 491.9,971.1 491.2,971.5 491.0,973.7 490.2,973.9 488.8,972.1 488.0,972.1 487.4,974.0 486.5,973.8 485.3,971.6 484.4,971.2 483.5,972.5 482.5,971.9 481.6,969.5 480.7,968.7 479.6,969.4 478.6,968.5 478.1,966.0 477.2,964.9 475.9,965.0 475.0,963.7 474.9,961.3 474.1,960.0 472.6,959.4 471.9,957.9 472.2,955.8 471.6,954.3 470.1,953.2 469.6,951.6 470.2,949.9 469.9,948.3 468.5,946.6 468.2,945.0 469.2,943.8 469.1,942.4 467.8,940.3 467.8,938.7 469.1,938.2 469.2,936.9 468.2,934.5 468.5,933.2 469.9,933.2 470.2,932.2 469.6,929.7 470.1,928.7 471.6,929.4 472.2,928.6 471.9,926.2 472.6,925.6 474.1,926.9 474.8,926.5 475.0,924.3 475.8,924.1 477.2,925.9 478.0,925.9 478.6,924.0 479.5,924.2 480.7,926.4 481.6,926.8 482.5,925.5 483.5,926.1 484.4,928.5 485.3,929.3 486.4,928.6 487.4,929.5 487.9,932.0 488.8,933.1 490.1,933.0 491.0,934.3 491.1,936.7 491.9,938.0 493.4,938.6 494.1,940.1 493.8,942.2 494.4,943.7 495.9,944.8" fill="#fff" stroke-width="1.4" stroke-linejoin="round"/>
<ellipse cx="486.0" cy="948.0" rx="8.5" ry="16.5" transform="rotate(-18 486.0 948.0)" stroke-width="1.0" fill="none" />
<polygon points="478.0,937.6 478.4,937.5 478.8,937.5 479.3,937.5 479.7,937.5 480.2,937.7 480.7,937.8 481.2,938.0 481.6,938.3 482.1,938.6 482.6,939.0 483.1,939.4 483.6,939.9 484.0,940.4 484.5,940.9 484.9,941.5 485.4,942.1 485.8,942.8 486.2,943.4 486.6,944.2 486.9,944.9 487.3,945.7 487.6,946.4 487.9,947.2 488.2,948.0 488.4,948.8 488.7,949.7 488.9,950.5 489.0,951.3 489.2,952.1 489.3,952.9 489.3,953.7 489.4,954.5 489.4,955.2 489.3,956.0 489.3,956.7 489.2,957.4 489.1,958.0 488.9,958.6 488.8,959.2 488.6,959.7 488.3,960.2 488.1,960.7 487.8,961.1 487.5,961.4 487.1,961.7 486.8,962.0 486.4,962.2 486.0,962.4 475.0,965.9 474.6,966.0 474.2,966.0 473.7,966.0 473.3,966.0 472.8,965.8 472.3,965.7 471.8,965.5 471.4,965.2 470.9,964.9 470.4,964.5 469.9,964.1 469.4,963.6 469.0,963.1 468.5,962.6 468.1,962.0 467.6,961.4 467.2,960.7 466.8,960.1 466.4,959.3 466.1,958.6 465.7,957.8 465.4,957.1 465.1,956.3 464.8,955.5 464.6,954.7 464.3,953.8 464.1,953.0 464.0,952.2 463.8,951.4 463.7,950.6 463.7,949.8 463.6,949.0 463.6,948.3 463.7,947.5 463.7,946.8 463.8,946.1 463.9,945.5 464.1,944.9 464.2,944.3 464.4,943.8 464.7,943.3 464.9,942.8 465.2,942.4 465.5,942.1 465.9,941.8 466.2,941.5 466.6,941.3 467.0,941.1" stroke-width="1.6" fill="#fff" stroke-linejoin="round" />
<ellipse cx="471.0" cy="953.5" rx="6.5" ry="13.0" transform="rotate(-18 471.0 953.5)" stroke-width="1.6" fill="#fff" />
<polygon points="468.1,945.1 468.4,945.0 468.7,945.0 469.0,945.0 469.3,945.0 469.6,945.1 470.0,945.2 470.3,945.4 470.7,945.6 471.0,945.9 471.4,946.1 471.7,946.4 472.0,946.8 472.4,947.2 472.7,947.6 473.0,948.0 473.3,948.5 473.7,949.0 473.9,949.5 474.2,950.0 474.5,950.5 474.7,951.1 475.0,951.7 475.2,952.3 475.4,952.9 475.6,953.5 475.7,954.1 475.9,954.7 476.0,955.3 476.1,955.9 476.2,956.5 476.2,957.0 476.3,957.6 476.3,958.2 476.3,958.7 476.2,959.2 476.2,959.7 476.1,960.2 476.0,960.6 475.9,961.1 475.7,961.4 475.6,961.8 475.4,962.1 475.2,962.4 475.0,962.7 474.7,962.9 474.5,963.1 474.2,963.2 473.9,963.3 454.9,969.1 454.6,969.2 454.3,969.2 454.0,969.2 453.7,969.2 453.4,969.1 453.0,969.0 452.7,968.8 452.3,968.6 452.0,968.3 451.6,968.1 451.3,967.8 451.0,967.4 450.6,967.0 450.3,966.6 450.0,966.2 449.7,965.7 449.3,965.2 449.1,964.7 448.8,964.2 448.5,963.7 448.3,963.1 448.0,962.5 447.8,961.9 447.6,961.3 447.4,960.7 447.3,960.1 447.1,959.5 447.0,958.9 446.9,958.3 446.8,957.7 446.8,957.2 446.7,956.6 446.7,956.0 446.7,955.5 446.8,955.0 446.8,954.5 446.9,954.0 447.0,953.6 447.1,953.1 447.3,952.8 447.4,952.4 447.6,952.1 447.8,951.8 448.0,951.5 448.3,951.3 448.5,951.1 448.8,951.0 449.1,950.9" stroke-width="1.8" fill="#999" stroke-linejoin="round" />
<ellipse cx="452.0" cy="960.0" rx="4.6" ry="9.6" transform="rotate(-18 452.0 960.0)" stroke-width="1.8" fill="#999" />
<ellipse cx="449.0" cy="961.0" rx="3.2" ry="8.0" transform="rotate(-18 449.0 961.0)" stroke-width="1.4" fill="#fff" />
<polygon points="446.9,954.0 447.1,954.0 447.4,953.9 447.6,953.9 447.9,954.0 448.1,954.0 448.4,954.1 448.6,954.2 448.9,954.3 449.2,954.5 449.4,954.7 449.7,954.9 449.9,955.1 450.2,955.4 450.4,955.7 450.7,956.0 450.9,956.3 451.1,956.7 451.4,957.0 451.6,957.4 451.8,957.8 452.0,958.2 452.1,958.6 452.3,959.0 452.4,959.4 452.6,959.8 452.7,960.3 452.8,960.7 452.9,961.1 452.9,961.5 453.0,962.0 453.0,962.4 453.0,962.8 453.0,963.2 453.0,963.6 453.0,963.9 452.9,964.3 452.8,964.6 452.7,965.0 452.6,965.3 452.5,965.6 452.4,965.8 452.2,966.1 452.1,966.3 451.9,966.5 451.7,966.6 451.5,966.8 451.3,966.9 451.1,967.0 437.1,971.5 436.9,971.5 436.6,971.6 436.4,971.6 436.1,971.5 435.9,971.5 435.6,971.4 435.4,971.3 435.1,971.2 434.8,971.0 434.6,970.8 434.3,970.6 434.1,970.4 433.8,970.1 433.6,969.8 433.3,969.5 433.1,969.2 432.9,968.8 432.6,968.5 432.4,968.1 432.2,967.7 432.0,967.3 431.9,966.9 431.7,966.5 431.6,966.1 431.4,965.7 431.3,965.2 431.2,964.8 431.1,964.4 431.1,964.0 431.0,963.5 431.0,963.1 431.0,962.7 431.0,962.3 431.0,961.9 431.0,961.6 431.1,961.2 431.2,960.9 431.3,960.5 431.4,960.2 431.5,959.9 431.6,959.7 431.8,959.4 431.9,959.2 432.1,959.0 432.3,958.9 432.5,958.7 432.7,958.6 432.9,958.5" stroke-width="1.8" fill="#fff" stroke-linejoin="round" />
<ellipse cx="435.0" cy="965.0" rx="3.6" ry="6.8" transform="rotate(-18 435.0 965.0)" stroke-width="1.8" fill="#fff" />
<line x1="517.4" y1="936.7" x2="579.3" y2="913.6" stroke-width="1.3" />
<line x1="595.0" y1="907.3" x2="607.0" y2="903.8" stroke-width="1.3" />
<polygon points="615.1,889.2 615.6,889.1 616.1,889.0 616.6,889.0 617.1,889.0 617.6,889.1 618.1,889.2 618.7,889.4 619.2,889.6 619.7,889.9 620.2,890.2 620.7,890.5 621.2,890.9 621.7,891.4 622.1,891.8 622.6,892.4 623.0,892.9 623.4,893.5 623.8,894.1 624.2,894.7 624.5,895.4 624.9,896.1 625.2,896.8 625.4,897.5 625.7,898.3 625.9,899.0 626.0,899.8 626.2,900.5 626.3,901.3 626.4,902.0 626.4,902.8 626.4,903.5 626.4,904.2 626.3,904.9 626.2,905.6 626.1,906.3 625.9,906.9 625.7,907.5 625.5,908.1 625.3,908.7 625.0,909.2 624.7,909.7 624.3,910.1 624.0,910.5 623.6,910.8 623.2,911.2 622.8,911.4 622.3,911.6 621.9,911.8 613.9,914.3 613.4,914.4 612.9,914.5 612.4,914.5 611.9,914.5 611.4,914.4 610.9,914.3 610.3,914.1 609.8,913.9 609.3,913.6 608.8,913.3 608.3,913.0 607.8,912.6 607.3,912.1 606.9,911.7 606.4,911.1 606.0,910.6 605.6,910.0 605.2,909.4 604.8,908.8 604.5,908.1 604.1,907.4 603.8,906.7 603.6,906.0 603.3,905.2 603.1,904.5 603.0,903.7 602.8,903.0 602.7,902.2 602.6,901.5 602.6,900.7 602.6,900.0 602.6,899.3 602.7,898.6 602.8,897.9 602.9,897.2 603.1,896.6 603.3,896.0 603.5,895.4 603.7,894.8 604.0,894.3 604.3,893.8 604.7,893.4 605.0,893.0 605.4,892.7 605.8,892.3 606.2,892.1 606.7,891.9 607.1,891.7" stroke-width="1.7" fill="#fff" stroke-linejoin="round" />
<ellipse cx="610.5" cy="903.0" rx="7.5" ry="11.8" transform="rotate(-16 610.5 903.0)" stroke-width="1.7" fill="#fff" />
<ellipse cx="611.0" cy="903.0" rx="4.5" ry="8.0" transform="rotate(-16 611.0 903.0)" stroke-width="1.6" fill="none" />
<path d="M609,897 l4,3 l-2,6 M612,899 l2,8" stroke-width="1.5" fill="none" />
<rect x="157.0" y="1192" width="1.6" height="1.4" fill="#bbb" stroke="none"/>
<rect x="210.5" y="1192" width="1.6" height="1.4" fill="#bbb" stroke="none"/>
<rect x="220.0" y="1192" width="1.6" height="1.4" fill="#bbb" stroke="none"/>
<rect x="231.5" y="1192" width="1.6" height="1.4" fill="#bbb" stroke="none"/>
<rect x="312.7" y="1192" width="1.6" height="1.4" fill="#bbb" stroke="none"/>
<rect x="325.0" y="1192" width="1.6" height="1.4" fill="#bbb" stroke="none"/>
<rect x="330.2" y="1192" width="1.6" height="1.4" fill="#bbb" stroke="none"/>
<rect x="336.5" y="1192" width="1.6" height="1.4" fill="#bbb" stroke="none"/>
<rect x="343.5" y="1192" width="1.6" height="1.4" fill="#bbb" stroke="none"/>
<rect x="373.2" y="1192" width="1.6" height="1.4" fill="#bbb" stroke="none"/>
<line x1="538.0" y1="770.0" x2="538.0" y2="738.0" stroke-width="2.6" />
<line x1="273.5" y1="156.0" x2="274.0" y2="213.0" stroke-width="2.6" />
<line x1="319.0" y1="87.0" x2="317.0" y2="151.0" stroke-width="2.6" />
<line x1="721.0" y1="707.0" x2="720.6" y2="677.4" stroke-width="2.6" />
<line x1="785.6" y1="716.0" x2="783.4" y2="676.2" stroke-width="2.6" />
<line x1="838.4" y1="668.0" x2="837.8" y2="633.6" stroke-width="2.6" />
<line x1="881.6" y1="631.0" x2="872.0" y2="611.8" stroke-width="2.6" />
<line x1="620.3" y1="45.0" x2="623.2" y2="98.4" stroke-width="2.6" />
<line x1="316.3" y1="460.0" x2="316.0" y2="487.2" stroke-width="2.6" />
<line x1="435.6" y1="385.0" x2="439.2" y2="428.4" stroke-width="2.6" />
<line x1="356.4" y1="415.0" x2="356.6" y2="465.6" stroke-width="2.6" />
<line x1="583.9" y1="343.0" x2="586.3" y2="382.8" stroke-width="2.6" />
<line x1="271.2" y1="436.0" x2="273.1" y2="494.4" stroke-width="2.6" />
<line x1="700.0" y1="319.0" x2="700.8" y2="372.0" stroke-width="2.6" />
<line x1="529.2" y1="363.0" x2="529.0" y2="388.8" stroke-width="2.6" />
<line x1="833.3" y1="245.0" x2="835.8" y2="300.8" stroke-width="2.6" />
<line x1="759.0" y1="281.0" x2="759.0" y2="328.5" stroke-width="2.6" />
<line x1="645.0" y1="316.0" x2="646.0" y2="370.0" stroke-width="2.6" />
<line x1="356.0" y1="823.0" x2="354.8" y2="800.0" stroke-width="2.6" />
<line x1="440.0" y1="131.0" x2="440.0" y2="163.0" stroke-width="2.6" />
<line x1="537.3" y1="53.0" x2="537.0" y2="87.6" stroke-width="2.6" />
<line x1="620.4" y1="977.0" x2="618.7" y2="931.2" stroke-width="2.6" />
<line x1="432.0" y1="827.0" x2="428.0" y2="792.0" stroke-width="2.6" />
<line x1="504.0" y1="1018.0" x2="502.8" y2="987.1" stroke-width="2.6" />
<line x1="426.0" y1="1035.0" x2="419.6" y2="1006.4" stroke-width="2.6" />
<line x1="375.7" y1="1062.0" x2="373.2" y2="1025.6" stroke-width="2.6" />
<line x1="319.4" y1="923.0" x2="319.4" y2="954.2" stroke-width="2.6" />
<line x1="245.8" y1="955.0" x2="242.0" y2="985.6" stroke-width="2.6" />
<line x1="178.6" y1="956.0" x2="180.6" y2="1012.8" stroke-width="2.6" />
<line x1="161.0" y1="1106.0" x2="162.0" y2="1084.8" stroke-width="2.6" />
<line x1="222.0" y1="242.0" x2="221.0" y2="286.0" stroke-width="2.6" />
<line x1="394.4" y1="93.0" x2="396.4" y2="155.5" stroke-width="2.6" />
<rect x="519.6" y="770.1" width="38.0" height="38.0" fill="#fff" stroke-width="3.2"/>
<polygon points="537.7,779.1 538.7,778.5 541.3,778.5 541.3,797.4 537.7,797.4 537.7,784.4 533.9,785.1 533.9,782.4 535.5,781.8" fill="#000" stroke="none"/>
<rect x="254.1" y="117.6" width="38.0" height="38.0" fill="#fff" stroke-width="3.2"/>
<text x="264.7" y="144.9">2</text>
<rect x="301.6" y="50.1" width="38.0" height="38.0" fill="#fff" stroke-width="3.2"/>
<text x="312.3" y="77.4">3</text>
<rect x="702.6" y="707.1" width="38.0" height="38.0" fill="#fff" stroke-width="3.2"/>
<text x="713.0" y="734.4">4</text>
<rect x="767.6" y="716.6" width="38.0" height="38.0" fill="#fff" stroke-width="3.2"/>
<text x="778.1" y="743.9">5</text>
<rect x="820.6" y="668.1" width="38.0" height="38.0" fill="#fff" stroke-width="3.2"/>
<text x="831.1" y="695.4">6</text>
<rect x="871.6" y="631.6" width="38.0" height="38.0" fill="#fff" stroke-width="3.2"/>
<text x="882.2" y="658.9">7</text>
<rect x="601.6" y="7.6" width="38.0" height="38.0" fill="#fff" stroke-width="3.2"/>
<text x="612.1" y="34.9">8</text>
<rect x="298.6" y="423.1" width="38.0" height="38.0" fill="#fff" stroke-width="3.2"/>
<text x="309.2" y="450.4">9</text>
<rect x="416.6" y="348.1" width="38.0" height="38.0" fill="#fff" stroke-width="3.2"/>
<polygon points="427.0,357.1 428.0,356.5 430.6,356.5 430.6,375.4 427.0,375.4 427.0,362.4 423.2,363.1 423.2,360.4 424.8,359.8" fill="#000" stroke="none"/>
<text x="432.2" y="375.4">0</text>
<rect x="337.6" y="378.1" width="38.0" height="38.0" fill="#fff" stroke-width="3.2"/>
<polygon points="350.7,387.1 351.7,386.5 354.3,386.5 354.3,405.4 350.7,405.4 350.7,392.4 346.9,393.1 346.9,390.4 348.5,389.8" fill="#000" stroke="none"/>
<polygon points="360.7,387.1 361.7,386.5 364.3,386.5 364.3,405.4 360.7,405.4 360.7,392.4 356.9,393.1 356.9,390.4 358.5,389.8" fill="#000" stroke="none"/>
<rect x="564.6" y="305.6" width="38.0" height="38.0" fill="#fff" stroke-width="3.2"/>
<polygon points="577.7,314.6 578.7,314.0 581.3,314.0 581.3,332.9 577.7,332.9 577.7,319.9 573.9,320.6 573.9,317.9 575.5,317.3" fill="#000" stroke="none"/>
<polygon points="587.7,314.6 588.7,314.0 591.3,314.0 591.3,332.9 587.7,332.9 587.7,319.9 583.9,320.6 583.9,317.9 585.5,317.3" fill="#000" stroke="none"/>
<rect x="252.6" y="398.6" width="38.0" height="38.0" fill="#fff" stroke-width="3.2"/>
<polygon points="263.0,407.6 264.0,407.0 266.6,407.0 266.6,425.9 263.0,425.9 263.0,412.9 259.2,413.6 259.2,410.9 260.8,410.3" fill="#000" stroke="none"/>
<text x="268.2" y="425.9">2</text>
<rect x="681.6" y="282.6" width="38.0" height="38.0" fill="#fff" stroke-width="3.2"/>
<polygon points="691.8,291.6 692.8,291.0 695.4,291.0 695.4,309.9 691.8,309.9 691.8,296.9 688.0,297.6 688.0,294.9 689.6,294.3" fill="#000" stroke="none"/>
<text x="697.3" y="309.9">3</text>
<rect x="511.1" y="326.1" width="38.0" height="38.0" fill="#fff" stroke-width="3.2"/>
<polygon points="520.7,335.1 521.7,334.5 524.3,334.5 524.3,353.4 520.7,353.4 520.7,340.4 516.9,341.1 516.9,338.4 518.5,337.8" fill="#000" stroke="none"/>
<text x="526.5" y="353.4">4</text>
<rect x="814.6" y="206.6" width="38.0" height="38.0" fill="#fff" stroke-width="3.2"/>
<polygon points="824.8,215.6 825.8,215.0 828.4,215.0 828.4,233.9 824.8,233.9 824.8,220.9 821.0,221.6 821.0,218.9 822.6,218.3" fill="#000" stroke="none"/>
<text x="830.1" y="233.9">5</text>
<rect x="741.6" y="243.6" width="38.0" height="38.0" fill="#fff" stroke-width="3.2"/>
<polygon points="752.0,252.6 753.0,252.0 755.6,252.0 755.6,270.9 752.0,270.9 752.0,257.9 748.2,258.6 748.2,255.9 749.8,255.3" fill="#000" stroke="none"/>
<text x="757.1" y="270.9">6</text>
<rect x="626.6" y="278.6" width="38.0" height="38.0" fill="#fff" stroke-width="3.2"/>
<polygon points="637.1,287.6 638.1,287.0 640.7,287.0 640.7,305.9 637.1,305.9 637.1,292.9 633.3,293.6 633.3,290.9 634.9,290.3" fill="#000" stroke="none"/>
<text x="642.2" y="305.9">7</text>
<rect x="339.6" y="823.6" width="38.0" height="38.0" fill="#fff" stroke-width="3.2"/>
<polygon points="349.8,832.6 350.8,832.0 353.4,832.0 353.4,850.9 349.8,850.9 349.8,837.9 346.0,838.6 346.0,835.9 347.6,835.3" fill="#000" stroke="none"/>
<text x="355.1" y="850.9">8</text>
<rect x="420.6" y="92.6" width="38.0" height="38.0" fill="#fff" stroke-width="3.2"/>
<polygon points="430.9,101.6 431.9,101.0 434.5,101.0 434.5,119.9 430.9,119.9 430.9,106.9 427.1,107.6 427.1,104.9 428.7,104.3" fill="#000" stroke="none"/>
<text x="436.2" y="119.9">9</text>
<rect x="519.6" y="15.6" width="38.0" height="38.0" fill="#fff" stroke-width="3.2"/>
<text x="523.4" y="42.9">2</text>
<text x="537.1" y="42.9">0</text>
<rect x="602.6" y="977.6" width="38.0" height="38.0" fill="#fff" stroke-width="3.2"/>
<text x="608.2" y="1004.9">2</text>
<polygon points="628.4,986.6 629.4,986.0 632.0,986.0 632.0,1004.9 628.4,1004.9 628.4,991.9 624.6,992.6 624.6,989.9 626.2,989.3" fill="#000" stroke="none"/>
<rect x="416.6" y="827.6" width="38.0" height="38.0" fill="#fff" stroke-width="3.2"/>
<text x="420.3" y="854.9">2</text>
<text x="434.1" y="854.9">2</text>
<rect x="486.6" y="1018.6" width="38.0" height="38.0" fill="#fff" stroke-width="3.2"/>
<text x="490.1" y="1045.9">2</text>
<text x="504.2" y="1045.9">3</text>
<rect x="411.6" y="1035.6" width="38.0" height="38.0" fill="#fff" stroke-width="3.2"/>
<text x="414.6" y="1062.9">2</text>
<text x="428.9" y="1062.9">4</text>
<rect x="357.6" y="1062.6" width="38.0" height="38.0" fill="#fff" stroke-width="3.2"/>
<text x="361.1" y="1089.9">2</text>
<text x="375.0" y="1089.9">5</text>
<rect x="301.6" y="886.6" width="38.0" height="38.0" fill="#fff" stroke-width="3.2"/>
<text x="305.3" y="913.9">2</text>
<text x="319.0" y="913.9">6</text>
<rect x="230.6" y="918.6" width="38.0" height="38.0" fill="#fff" stroke-width="3.2"/>
<text x="234.5" y="945.9">2</text>
<text x="248.1" y="945.9">7</text>
<rect x="159.6" y="919.6" width="38.0" height="38.0" fill="#fff" stroke-width="3.2"/>
<text x="163.1" y="946.9">2</text>
<text x="177.0" y="946.9">8</text>
<rect x="141.6" y="1106.6" width="38.0" height="38.0" fill="#fff" stroke-width="3.2"/>
<text x="145.3" y="1133.9">2</text>
<text x="159.1" y="1133.9">9</text>
<rect x="203.6" y="204.6" width="38.0" height="38.0" fill="#fff" stroke-width="3.2"/>
<text x="207.5" y="231.9">3</text>
<text x="221.3" y="231.9">0</text>
<rect x="374.6" y="54.6" width="38.0" height="38.0" fill="#fff" stroke-width="3.2"/>
<text x="380.3" y="81.9">3</text>
<polygon points="400.6,63.6 401.6,63.0 404.2,63.0 404.2,81.9 400.6,81.9 400.6,68.9 396.8,69.6 396.8,66.9 398.4,66.3" fill="#000" stroke="none"/>
</svg>
</body></html>
